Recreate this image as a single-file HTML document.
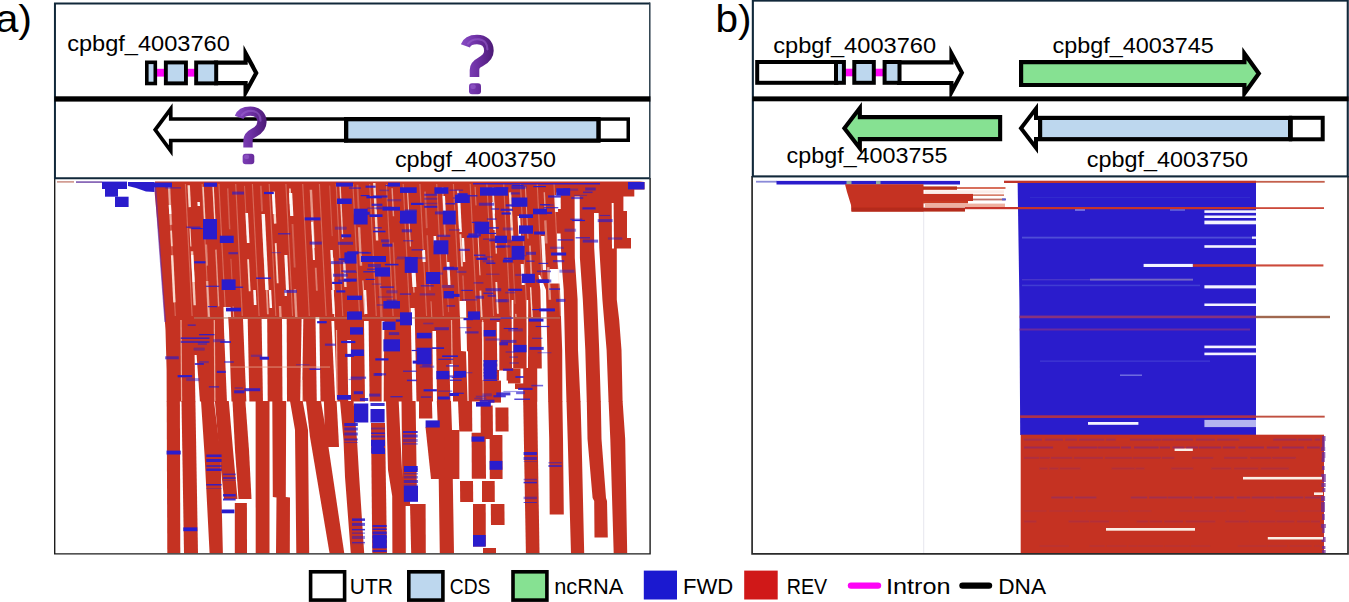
<!DOCTYPE html>
<html><head><meta charset="utf-8"><title>figure</title>
<style>
html,body{margin:0;padding:0;background:#fff;}
body{width:1349px;height:602px;overflow:hidden;font-family:"Liberation Sans",sans-serif;}
svg{display:block;}
text{font-family:"Liberation Sans",sans-serif;fill:#000;}
</style></head><body>
<svg width="1349" height="602" viewBox="0 0 1349 602">
<defs>
<filter id="soft" x="-2%" y="-2%" width="104%" height="104%"><feGaussianBlur stdDeviation="0.45"/></filter>
<clipPath id="clipA"><rect x="55.5" y="178.8" width="594.5" height="374.4"/></clipPath>
<clipPath id="clipB"><rect x="753" y="177.4" width="594" height="375.8"/></clipPath>
</defs>
<rect x="0" y="0" width="1349" height="602" fill="#fff"/>
<g clip-path="url(#clipA)"><g filter="url(#soft)">
<polygon points="155.0,181.4 640.0,181.4 644.5,182.0 644.5,189.4 634.3,189.4 634.3,196.6 623.4,196.6 623.4,211.0 627.0,211.0 627.0,238.0 631.0,238.0 631.0,248.4 616.8,248.4 616.8,299.5 619.2,320.0 621.5,350.0 622.6,401.5 166.7,401.5 166.6,370.0 165.5,330.0 162.0,282.0 158.4,234.0 154.7,193.0" fill="#c53323" />
<rect x="57.0" y="181.2" width="17.0" height="1.4" fill="#c8867a" />
<rect x="76.0" y="181.2" width="26.0" height="1.8" fill="#8a6ab8" />
<polygon points="128.0,182.0 154.5,182.0 154.5,192.0 146.0,191.5 136.0,188.0 128.0,186.0" fill="#2a1ccc" />
<polygon points="594.0,213.0 594.2,248.0 597.2,299.5 599.2,350.0 600.8,402.6 608.6,402.6 606.6,350.0 602.4,299.5 599.3,248.0 598.6,213.0" fill="#ffffff" />
<polygon points="574.6,196.6 574.8,258.0 577.6,299.5 578.0,350.0 580.5,402.6 586.8,402.6 585.3,350.0 582.8,299.5 579.9,258.0 579.7,196.6" fill="#ffffff" />
<polygon points="556.3,192.5 556.5,209.0 560.8,209.0 560.6,192.5" fill="#ffffff" />
<polygon points="557.0,233.6 557.3,258.0 560.0,290.0 562.2,350.0 562.4,402.6 566.5,402.6 565.0,350.0 563.7,290.0 561.2,258.0 560.6,233.6" fill="#ffffff" />
<polygon points="611.7,203.0 612.0,248.4 614.0,248.4 613.6,203.0" fill="#ffffff" />
<polygon points="538.5,275.0 540.4,290.0 541.6,350.0 541.8,368.5 537.2,368.6 537.3,402.6 548.2,402.6 547.6,368.6 547.6,368.5 547.3,350.0 546.0,290.0 540.0,275.0" fill="#ffffff" />
<polygon points="194.6,355.0 195.4,402.6 200.0,402.6 196.6,355.0" fill="#ffffff" />
<polygon points="223.5,307.0 224.0,330.0 227.0,402.6 231.5,402.6 229.0,330.0 227.5,307.0" fill="#ffffff" />
<polygon points="243.0,319.0 246.4,402.6 249.4,402.6 247.7,319.0" fill="#ffffff" />
<polygon points="261.6,319.0 263.0,402.6 267.7,402.6 267.2,319.0" fill="#ffffff" />
<polygon points="282.0,319.0 282.5,402.6 287.0,402.6 286.7,319.0" fill="#ffffff" />
<polygon points="301.6,319.0 300.2,402.6 302.0,402.6 303.3,319.0" fill="#ffffff" />
<polygon points="315.5,317.0 316.8,402.6 320.5,402.6 319.3,317.0" fill="#ffffff" />
<polygon points="331.4,321.0 335.3,402.6 337.0,402.6 334.2,321.0" fill="#ffffff" />
<polygon points="347.2,340.0 348.3,402.6 351.0,402.6 351.0,340.0" fill="#ffffff" />
<polygon points="364.0,321.0 365.0,402.6 369.6,402.6 368.6,321.0" fill="#ffffff" />
<polygon points="381.6,321.0 381.6,402.6 383.5,402.6 384.4,321.0" fill="#ffffff" />
<polygon points="410.6,308.0 412.5,402.6 416.5,402.6 414.6,308.0" fill="#ffffff" />
<polygon points="432.4,331.0 433.0,402.6 437.0,402.6 436.0,331.0" fill="#ffffff" />
<polygon points="449.4,364.0 450.5,402.6 453.0,402.6 453.0,364.0" fill="#ffffff" />
<polygon points="459.5,301.0 461.0,351.0 466.0,351.5 467.6,402.6 468.6,402.6 468.0,351.5 467.0,351.0 466.0,301.0" fill="#ffffff" />
<polygon points="481.8,322.0 482.4,380.0 483.6,380.0 483.5,322.0" fill="#ffffff" />
<polygon points="496.7,322.0 497.3,370.0 499.3,370.0 499.3,322.0" fill="#ffffff" />
<polygon points="511.6,300.0 512.0,368.0 513.2,368.0 513.4,300.0" fill="#ffffff" />
<polygon points="526.5,300.0 526.6,368.0 528.0,368.0 528.2,300.0" fill="#ffffff" />
<polygon points="499.0,370.4 512.5,370.4 512.8,368.5 523.2,368.5 523.2,402.6 497.3,402.6 497.3,380.6 499.0,380.6" fill="#ffffff" />
<rect x="506.6" y="368.5" width="13.9" height="14.9" fill="#c53323" />
<rect x="515.0" y="383.4" width="13.0" height="5.6" fill="#c53323" />
<rect x="501.0" y="380.6" width="7.0" height="22.0" fill="#ffffff" />
<rect x="488.0" y="380.6" width="13.0" height="22.0" fill="#c53323" />
<rect x="549.7" y="269.0" width="10.3" height="14.5" fill="#ffffff" />
<polyline points="155.2,184 156.3,200 158.6,234 162.2,282 165.2,322" fill="none" stroke="#5a2ab8" stroke-width="1.6" opacity="0.6"/>
<line x1="168.7" y1="184" x2="175.3" y2="316" stroke="#ffd8c6" stroke-width="1.1" opacity="0.33"/>
<line x1="185.4" y1="184" x2="192.1" y2="316" stroke="#ffd8c6" stroke-width="1.1" opacity="0.33"/>
<line x1="202.2" y1="184" x2="208.8" y2="316" stroke="#ffd8c6" stroke-width="1.1" opacity="0.33"/>
<line x1="218.9" y1="184" x2="225.6" y2="316" stroke="#ffd8c6" stroke-width="1.1" opacity="0.33"/>
<line x1="235.7" y1="184" x2="242.3" y2="316" stroke="#ffd8c6" stroke-width="1.1" opacity="0.33"/>
<line x1="252.4" y1="184" x2="259.1" y2="316" stroke="#ffd8c6" stroke-width="1.1" opacity="0.33"/>
<line x1="269.2" y1="184" x2="275.8" y2="316" stroke="#ffd8c6" stroke-width="1.1" opacity="0.33"/>
<line x1="285.9" y1="184" x2="292.6" y2="316" stroke="#ffd8c6" stroke-width="1.1" opacity="0.33"/>
<line x1="302.7" y1="184" x2="309.3" y2="316" stroke="#ffd8c6" stroke-width="1.1" opacity="0.33"/>
<line x1="319.4" y1="184" x2="326.1" y2="316" stroke="#ffd8c6" stroke-width="1.1" opacity="0.33"/>
<line x1="336.2" y1="184" x2="342.8" y2="316" stroke="#ffd8c6" stroke-width="1.1" opacity="0.33"/>
<line x1="352.9" y1="184" x2="359.6" y2="316" stroke="#ffd8c6" stroke-width="1.1" opacity="0.33"/>
<line x1="369.7" y1="184" x2="376.3" y2="316" stroke="#ffd8c6" stroke-width="1.1" opacity="0.33"/>
<line x1="386.4" y1="184" x2="393.1" y2="316" stroke="#ffd8c6" stroke-width="1.1" opacity="0.33"/>
<line x1="403.2" y1="184" x2="409.8" y2="316" stroke="#ffd8c6" stroke-width="1.1" opacity="0.33"/>
<line x1="419.9" y1="184" x2="426.6" y2="316" stroke="#ffd8c6" stroke-width="1.1" opacity="0.33"/>
<line x1="436.7" y1="184" x2="443.3" y2="316" stroke="#ffd8c6" stroke-width="1.1" opacity="0.33"/>
<line x1="453.4" y1="184" x2="460.1" y2="316" stroke="#ffd8c6" stroke-width="1.1" opacity="0.33"/>
<line x1="470.2" y1="184" x2="476.8" y2="316" stroke="#ffd8c6" stroke-width="1.1" opacity="0.33"/>
<line x1="486.9" y1="184" x2="493.6" y2="316" stroke="#ffd8c6" stroke-width="1.1" opacity="0.33"/>
<line x1="503.7" y1="184" x2="510.3" y2="316" stroke="#ffd8c6" stroke-width="1.1" opacity="0.33"/>
<line x1="520.5" y1="184" x2="527.0" y2="316" stroke="#ffd8c6" stroke-width="1.1" opacity="0.33"/>
<line x1="537.2" y1="184" x2="543.8" y2="316" stroke="#ffd8c6" stroke-width="1.1" opacity="0.33"/>
<line x1="554.0" y1="184" x2="560.5" y2="316" stroke="#ffd8c6" stroke-width="1.1" opacity="0.33"/>
<line x1="169.0" y1="185.4" x2="171.0" y2="224.9" stroke="#ffe9dc" stroke-width="2.4" opacity="0.55"/>
<line x1="171.1" y1="230.6" x2="171.9" y2="246.2" stroke="#ffe9dc" stroke-width="1.8" opacity="0.80"/>
<line x1="172.1" y1="255.2" x2="174.4" y2="302.4" stroke="#ffe9dc" stroke-width="2.4" opacity="0.90"/>
<line x1="188.7" y1="185.3" x2="189.8" y2="207.1" stroke="#ffe9dc" stroke-width="2.4" opacity="0.90"/>
<line x1="190.0" y1="228.6" x2="190.9" y2="246.5" stroke="#ffe9dc" stroke-width="1.0" opacity="0.90"/>
<line x1="192.0" y1="251.3" x2="194.7" y2="305.2" stroke="#ffe9dc" stroke-width="2.4" opacity="0.80"/>
<line x1="203.1" y1="186.9" x2="205.7" y2="238.0" stroke="#ffe9dc" stroke-width="1.4" opacity="0.80"/>
<line x1="206.2" y1="244.5" x2="207.2" y2="265.6" stroke="#ffe9dc" stroke-width="1.8" opacity="0.40"/>
<line x1="207.1" y1="281.0" x2="208.9" y2="317.0" stroke="#ffe9dc" stroke-width="2.4" opacity="0.55"/>
<line x1="213.1" y1="186.5" x2="215.2" y2="227.8" stroke="#ffe9dc" stroke-width="1.4" opacity="0.90"/>
<line x1="215.9" y1="249.6" x2="218.7" y2="306.4" stroke="#ffe9dc" stroke-width="1.4" opacity="0.55"/>
<line x1="227.7" y1="188.4" x2="229.7" y2="229.2" stroke="#ffe9dc" stroke-width="1.4" opacity="0.25"/>
<line x1="230.9" y1="258.8" x2="232.3" y2="285.9" stroke="#ffe9dc" stroke-width="1.0" opacity="0.25"/>
<line x1="233.1" y1="306.5" x2="233.7" y2="317.0" stroke="#ffe9dc" stroke-width="1.0" opacity="0.55"/>
<line x1="244.5" y1="185.9" x2="247.0" y2="235.5" stroke="#ffe9dc" stroke-width="1.0" opacity="0.25"/>
<line x1="248.1" y1="259.3" x2="249.7" y2="291.3" stroke="#ffe9dc" stroke-width="1.8" opacity="0.90"/>
<line x1="260.8" y1="185.8" x2="262.1" y2="211.4" stroke="#ffe9dc" stroke-width="1.8" opacity="0.25"/>
<line x1="263.0" y1="218.2" x2="264.9" y2="257.3" stroke="#ffe9dc" stroke-width="2.4" opacity="0.40"/>
<line x1="265.6" y1="268.2" x2="267.9" y2="314.2" stroke="#ffe9dc" stroke-width="1.8" opacity="0.55"/>
<line x1="273.6" y1="191.6" x2="275.2" y2="223.6" stroke="#ffe9dc" stroke-width="2.4" opacity="0.90"/>
<line x1="275.7" y1="243.1" x2="277.7" y2="283.2" stroke="#ffe9dc" stroke-width="1.8" opacity="0.90"/>
<line x1="280.0" y1="306.0" x2="280.5" y2="317.0" stroke="#ffe9dc" stroke-width="2.4" opacity="0.55"/>
<line x1="289.9" y1="188.5" x2="290.6" y2="204.0" stroke="#ffe9dc" stroke-width="1.8" opacity="0.80"/>
<line x1="292.5" y1="224.0" x2="294.7" y2="267.5" stroke="#ffe9dc" stroke-width="1.8" opacity="0.25"/>
<line x1="294.9" y1="289.1" x2="296.3" y2="317.0" stroke="#ffe9dc" stroke-width="2.4" opacity="0.55"/>
<line x1="310.9" y1="189.8" x2="313.8" y2="248.1" stroke="#ffe9dc" stroke-width="2.4" opacity="0.55"/>
<line x1="315.7" y1="267.7" x2="316.9" y2="290.7" stroke="#ffe9dc" stroke-width="1.8" opacity="0.40"/>
<line x1="329.7" y1="185.6" x2="332.2" y2="236.1" stroke="#ffe9dc" stroke-width="1.0" opacity="0.25"/>
<line x1="332.7" y1="257.8" x2="333.7" y2="278.8" stroke="#ffe9dc" stroke-width="1.4" opacity="0.90"/>
<line x1="333.2" y1="289.8" x2="334.6" y2="317.0" stroke="#ffe9dc" stroke-width="1.0" opacity="0.80"/>
<line x1="340.1" y1="186.3" x2="342.7" y2="238.8" stroke="#ffe9dc" stroke-width="1.4" opacity="0.80"/>
<line x1="344.2" y1="262.1" x2="345.5" y2="287.0" stroke="#ffe9dc" stroke-width="2.4" opacity="0.90"/>
<line x1="347.8" y1="311.4" x2="348.1" y2="317.0" stroke="#ffe9dc" stroke-width="1.8" opacity="0.40"/>
<line x1="357.4" y1="184.8" x2="358.8" y2="212.4" stroke="#ffe9dc" stroke-width="1.8" opacity="0.25"/>
<line x1="359.1" y1="227.3" x2="361.0" y2="265.7" stroke="#ffe9dc" stroke-width="2.4" opacity="0.55"/>
<line x1="362.9" y1="280.5" x2="364.6" y2="314.4" stroke="#ffe9dc" stroke-width="1.0" opacity="0.80"/>
<line x1="374.3" y1="183.0" x2="377.1" y2="240.5" stroke="#ffe9dc" stroke-width="2.4" opacity="0.90"/>
<line x1="379.2" y1="270.1" x2="381.5" y2="317.0" stroke="#ffe9dc" stroke-width="2.4" opacity="0.25"/>
<line x1="392.1" y1="188.2" x2="393.5" y2="216.2" stroke="#ffe9dc" stroke-width="1.4" opacity="0.55"/>
<line x1="393.2" y1="242.5" x2="396.2" y2="301.2" stroke="#ffe9dc" stroke-width="1.4" opacity="0.25"/>
<line x1="407.5" y1="189.9" x2="410.4" y2="246.5" stroke="#ffe9dc" stroke-width="1.0" opacity="0.80"/>
<line x1="412.8" y1="269.9" x2="414.0" y2="292.6" stroke="#ffe9dc" stroke-width="1.4" opacity="0.55"/>
<line x1="414.2" y1="310.3" x2="414.5" y2="317.0" stroke="#ffe9dc" stroke-width="1.0" opacity="0.90"/>
<line x1="425.0" y1="191.6" x2="426.8" y2="228.1" stroke="#ffe9dc" stroke-width="1.8" opacity="0.25"/>
<line x1="427.2" y1="235.3" x2="430.0" y2="290.2" stroke="#ffe9dc" stroke-width="1.4" opacity="0.25"/>
<line x1="431.0" y1="301.3" x2="431.8" y2="317.0" stroke="#ffe9dc" stroke-width="1.0" opacity="0.40"/>
<line x1="442.6" y1="187.0" x2="445.0" y2="236.0" stroke="#ffe9dc" stroke-width="1.8" opacity="0.40"/>
<line x1="446.4" y1="253.6" x2="447.3" y2="270.9" stroke="#ffe9dc" stroke-width="1.0" opacity="0.55"/>
<line x1="447.7" y1="295.0" x2="448.6" y2="312.1" stroke="#ffe9dc" stroke-width="1.0" opacity="0.25"/>
<line x1="457.8" y1="190.1" x2="459.7" y2="228.3" stroke="#ffe9dc" stroke-width="1.8" opacity="0.80"/>
<line x1="460.4" y1="234.2" x2="462.0" y2="266.5" stroke="#ffe9dc" stroke-width="1.8" opacity="0.80"/>
<line x1="462.9" y1="275.5" x2="464.4" y2="305.3" stroke="#ffe9dc" stroke-width="1.4" opacity="0.25"/>
<line x1="475.1" y1="186.8" x2="476.0" y2="205.4" stroke="#ffe9dc" stroke-width="1.0" opacity="0.40"/>
<line x1="477.5" y1="225.1" x2="480.0" y2="275.3" stroke="#ffe9dc" stroke-width="1.0" opacity="0.80"/>
<line x1="480.4" y1="290.6" x2="481.7" y2="317.0" stroke="#ffe9dc" stroke-width="1.8" opacity="0.80"/>
<line x1="492.8" y1="187.6" x2="494.1" y2="213.6" stroke="#ffe9dc" stroke-width="1.8" opacity="0.90"/>
<line x1="494.7" y1="219.5" x2="496.4" y2="253.6" stroke="#ffe9dc" stroke-width="1.4" opacity="0.80"/>
<line x1="496.3" y1="282.0" x2="497.9" y2="313.8" stroke="#ffe9dc" stroke-width="1.8" opacity="0.90"/>
<line x1="510.0" y1="192.4" x2="512.4" y2="240.3" stroke="#ffe9dc" stroke-width="2.4" opacity="0.90"/>
<line x1="513.1" y1="263.4" x2="515.1" y2="303.8" stroke="#ffe9dc" stroke-width="1.0" opacity="0.25"/>
<line x1="515.8" y1="313.9" x2="516.0" y2="317.0" stroke="#ffe9dc" stroke-width="1.0" opacity="0.90"/>
<line x1="525.4" y1="186.8" x2="528.0" y2="238.6" stroke="#ffe9dc" stroke-width="1.0" opacity="0.55"/>
<line x1="529.9" y1="245.6" x2="531.7" y2="282.3" stroke="#ffe9dc" stroke-width="1.8" opacity="0.55"/>
<line x1="530.6" y1="287.3" x2="532.1" y2="317.0" stroke="#ffe9dc" stroke-width="1.4" opacity="0.90"/>
<line x1="544.3" y1="192.3" x2="545.2" y2="210.1" stroke="#ffe9dc" stroke-width="1.4" opacity="0.55"/>
<line x1="545.3" y1="220.4" x2="546.4" y2="243.5" stroke="#ffe9dc" stroke-width="2.4" opacity="0.40"/>
<line x1="548.2" y1="267.1" x2="549.9" y2="299.8" stroke="#ffe9dc" stroke-width="2.4" opacity="0.55"/>
<line x1="273.1" y1="192.0" x2="274.2" y2="214.0" stroke="#ffffff" stroke-width="2.6" opacity="0.95"/>
<line x1="290.6" y1="193.0" x2="291.8" y2="216.0" stroke="#ffffff" stroke-width="3.2" opacity="0.95"/>
<line x1="246.7" y1="213.0" x2="248.2" y2="243.0" stroke="#ffffff" stroke-width="2.6" opacity="0.95"/>
<line x1="263.2" y1="214.0" x2="267.0" y2="290.0" stroke="#ffffff" stroke-width="3.4" opacity="0.95"/>
<line x1="285.8" y1="255.0" x2="287.5" y2="290.0" stroke="#ffffff" stroke-width="3.0" opacity="0.95"/>
<line x1="169.8" y1="205.0" x2="170.3" y2="214.0" stroke="#ffffff" stroke-width="2.2" opacity="0.95"/>
<line x1="198.6" y1="202.0" x2="198.8" y2="206.0" stroke="#ffffff" stroke-width="2.4" opacity="0.95"/>
<line x1="192.2" y1="255.0" x2="193.6" y2="282.0" stroke="#ffffff" stroke-width="2.2" opacity="0.95"/>
<line x1="312.1" y1="222.0" x2="314.0" y2="260.0" stroke="#ffffff" stroke-width="2.0" opacity="0.95"/>
<line x1="331.5" y1="250.0" x2="333.5" y2="290.0" stroke="#ffffff" stroke-width="2.4" opacity="0.95"/>
<line x1="443.8" y1="196.0" x2="444.8" y2="216.0" stroke="#ffffff" stroke-width="2.4" opacity="0.95"/>
<line x1="459.0" y1="200.0" x2="460.6" y2="232.0" stroke="#ffffff" stroke-width="2.6" opacity="0.95"/>
<line x1="493.1" y1="202.0" x2="494.5" y2="230.0" stroke="#ffffff" stroke-width="2.2" opacity="0.95"/>
<line x1="518.8" y1="216.0" x2="520.0" y2="240.0" stroke="#ffffff" stroke-width="2.6" opacity="0.95"/>
<line x1="555.8" y1="195.0" x2="556.6" y2="212.0" stroke="#ffffff" stroke-width="3.0" opacity="0.95"/>
<line x1="542.8" y1="236.0" x2="544.5" y2="270.0" stroke="#ffffff" stroke-width="3.4" opacity="0.95"/>
<line x1="558.9" y1="238.0" x2="560.4" y2="268.0" stroke="#ffffff" stroke-width="3.0" opacity="0.95"/>
<line x1="423.5" y1="250.0" x2="424.1" y2="262.0" stroke="#ffffff" stroke-width="3.0" opacity="0.95"/>
<line x1="434.8" y1="236.0" x2="435.6" y2="252.0" stroke="#ffffff" stroke-width="2.6" opacity="0.95"/>
<line x1="413.6" y1="272.0" x2="414.4" y2="287.0" stroke="#ffffff" stroke-width="4.0" opacity="0.95"/>
<line x1="448.1" y1="262.0" x2="449.2" y2="285.0" stroke="#ffffff" stroke-width="2.6" opacity="0.95"/>
<line x1="522.2" y1="264.0" x2="523.2" y2="285.0" stroke="#ffffff" stroke-width="3.0" opacity="0.95"/>
<line x1="462.9" y1="238.0" x2="464.1" y2="262.0" stroke="#ffffff" stroke-width="2.4" opacity="0.95"/>
<line x1="254.5" y1="290.0" x2="255.2" y2="305.0" stroke="#ffffff" stroke-width="2.6" opacity="0.95"/>
<line x1="270.0" y1="290.0" x2="270.9" y2="308.0" stroke="#ffffff" stroke-width="2.4" opacity="0.95"/>
<line x1="285.5" y1="290.0" x2="285.8" y2="296.0" stroke="#ffffff" stroke-width="2.2" opacity="0.95"/>
<line x1="332.5" y1="290.0" x2="333.7" y2="314.0" stroke="#ffffff" stroke-width="2.4" opacity="0.95"/>
<line x1="365.0" y1="290.0" x2="366.2" y2="314.0" stroke="#ffffff" stroke-width="2.4" opacity="0.95"/>
<line x1="228.8" y1="307.0" x2="229.3" y2="317.0" stroke="#ffffff" stroke-width="3.5" opacity="0.95"/>
<line x1="181.0" y1="320.0" x2="181.6" y2="401.0" stroke="#ffd9c8" stroke-width="1.2" opacity="0.7"/>
<line x1="214.3" y1="320.0" x2="214.9" y2="401.0" stroke="#ffd9c8" stroke-width="1.2" opacity="0.7"/>
<line x1="302.0" y1="380.0" x2="302.6" y2="401.0" stroke="#ffd9c8" stroke-width="1.2" opacity="0.7"/>
<line x1="336.5" y1="330.0" x2="337.1" y2="401.0" stroke="#ffd9c8" stroke-width="1.2" opacity="0.7"/>
<line x1="382.8" y1="330.0" x2="383.4" y2="401.0" stroke="#ffd9c8" stroke-width="1.2" opacity="0.7"/>
<line x1="451.5" y1="320.0" x2="452.1" y2="364.0" stroke="#ffd9c8" stroke-width="1.2" opacity="0.7"/>
<line x1="482.6" y1="320.0" x2="483.2" y2="400.0" stroke="#ffd9c8" stroke-width="1.2" opacity="0.7"/>
<rect x="194.0" y="317.3" width="366.0" height="1.3" fill="#b0806a" opacity="0.8"/>
<rect x="230.0" y="366.5" width="100.0" height="1.1" fill="#e8a890" opacity="0.7"/>
<polygon points="166.7,400.9 167.3,553.6 180.3,553.6 179.9,400.9" fill="#c53323" />
<polygon points="181.5,400.9 184.0,553.6 198.0,553.6 195.4,400.9" fill="#c53323" />
<polygon points="201.0,400.9 204.5,454.0 209.6,553.6 222.9,553.6 220.5,454.0 214.0,400.9" fill="#c53323" />
<polygon points="214.9,400.9 219.0,450.0 224.0,499.0 237.5,499.0 233.0,450.0 228.8,400.9" fill="#c53323" />
<polygon points="232.5,400.9 235.0,450.0 238.5,499.0 251.5,499.0 249.0,450.0 245.4,400.9" fill="#c53323" />
<polygon points="234.8,503.0 234.8,553.6 247.0,553.6 246.9,503.0" fill="#c53323" />
<polygon points="255.6,400.9 255.7,553.6 269.5,553.6 269.5,400.9" fill="#c53323" />
<polygon points="272.3,400.9 272.8,497.0 276.5,497.5 276.0,553.6 289.8,553.6 290.0,497.5 285.8,497.0 286.2,400.9" fill="#c53323" />
<polygon points="290.0,400.9 295.0,430.0 296.3,553.6 309.2,553.6 308.0,430.0 302.7,400.9" fill="#c53323" />
<polygon points="306.0,400.9 310.0,437.0 329.6,553.6 344.3,553.6 327.0,437.0 321.0,400.9" fill="#c53323" />
<polygon points="323.9,400.9 325.0,436.0 327.0,447.0 339.0,447.0 338.5,436.0 336.6,400.9" fill="#c53323" />
<polygon points="340.0,400.9 343.5,440.0 345.0,477.0 350.8,553.6 364.2,553.6 359.2,477.0 357.0,440.0 353.5,400.9" fill="#c53323" />
<polygon points="371.0,423.0 372.3,553.6 387.0,553.6 385.0,423.0" fill="#c53323" />
<polygon points="386.0,400.9 388.0,470.0 392.2,496.0 392.4,553.6 405.8,553.6 405.6,496.0 402.0,470.0 398.7,400.9" fill="#c53323" />
<polygon points="401.5,400.9 402.5,500.0 404.0,500.5 404.0,506.0 410.0,506.0 410.0,500.5 417.0,500.0 415.6,400.9" fill="#c53323" />
<polygon points="410.0,504.0 411.2,553.6 425.8,553.6 425.6,504.0" fill="#c53323" />
<polygon points="419.0,400.9 419.0,418.6 432.4,418.6 431.9,400.9" fill="#c53323" />
<polygon points="425.5,427.0 431.0,479.0 445.0,479.0 439.6,427.0" fill="#c53323" />
<polygon points="436.8,400.9 438.0,430.0 439.8,553.6 454.0,553.6 452.0,430.0 451.0,400.9" fill="#c53323" />
<polygon points="444.0,430.0 445.0,479.0 459.4,479.0 459.4,430.0" fill="#c53323" />
<polygon points="458.0,400.9 459.3,431.5 472.3,431.5 472.0,400.9" fill="#c53323" />
<polygon points="471.6,432.7 471.8,478.8 486.0,478.8 485.7,432.7" fill="#c53323" />
<polygon points="460.0,481.0 460.2,502.0 473.2,502.0 473.0,481.0" fill="#c53323" />
<polygon points="473.0,504.0 473.0,546.6 485.8,546.6 485.7,504.0" fill="#c53323" />
<polygon points="480.6,405.6 480.8,439.0 493.0,439.0 492.7,405.6" fill="#c53323" />
<polygon points="495.4,407.5 495.6,431.5 508.6,431.5 508.4,407.5" fill="#c53323" />
<polygon points="489.6,435.0 489.8,479.0 502.6,479.0 502.4,435.0" fill="#c53323" />
<polygon points="482.0,481.0 482.0,502.0 494.8,502.0 494.7,481.0" fill="#c53323" />
<polygon points="490.8,504.0 491.0,525.0 504.6,525.0 504.4,504.0" fill="#c53323" />
<polygon points="483.0,548.0 483.0,553.6 496.0,553.6 496.0,548.0" fill="#c53323" />
<polygon points="523.2,400.9 525.9,553.6 539.5,553.6 537.1,400.9" fill="#c53323" />
<polygon points="548.2,400.9 549.2,439.0 549.7,514.6 563.8,514.6 563.0,439.0 562.4,400.9" fill="#c53323" />
<polygon points="566.5,400.9 567.7,439.0 571.0,553.6 584.2,553.6 581.6,439.0 580.5,400.9" fill="#c53323" />
<polygon points="586.8,400.9 587.5,439.0 592.6,498.0 594.2,501.0 594.5,537.6 607.8,537.6 607.0,501.0 606.0,498.0 601.5,439.0 600.8,400.9" fill="#c53323" />
<polygon points="608.6,400.9 610.3,439.0 613.7,553.6 627.2,553.6 625.2,439.0 622.6,400.9" fill="#c53323" />
<rect x="102.0" y="181.6" width="25.0" height="7.4" fill="#2a1ccc" />
<rect x="105.0" y="189.0" width="13.0" height="7.7" fill="#2a1ccc" />
<rect x="115.0" y="196.7" width="13.6" height="10.3" fill="#2a1ccc" />
<rect x="203.0" y="219.0" width="14.0" height="20.4" fill="#2a1ccc" />
<rect x="219.8" y="235.7" width="13.9" height="7.3" fill="#2a1ccc" />
<rect x="221.6" y="279.4" width="14.0" height="10.6" fill="#2a1ccc" />
<rect x="337.0" y="198.5" width="14.8" height="5.5" fill="#2a1ccc" />
<rect x="353.7" y="208.7" width="13.9" height="15.8" fill="#2a1ccc" />
<rect x="344.4" y="252.4" width="12.1" height="11.2" fill="#2a1ccc" />
<rect x="375.0" y="267.3" width="15.0" height="9.3" fill="#2a1ccc" />
<rect x="361.0" y="256.0" width="25.0" height="6.0" fill="#2a1ccc" />
<rect x="382.5" y="206.8" width="17.5" height="3.8" fill="#2a1ccc" />
<rect x="369.5" y="214.3" width="13.0" height="2.7" fill="#2a1ccc" />
<rect x="150.0" y="182.6" width="22.0" height="4.7" fill="#2a1ccc" />
<rect x="204.0" y="182.6" width="13.0" height="4.2" fill="#2a1ccc" />
<rect x="336.0" y="182.6" width="17.0" height="4.0" fill="#2a1ccc" />
<rect x="388.0" y="182.6" width="12.0" height="4.0" fill="#2a1ccc" />
<rect x="434.4" y="187.3" width="14.0" height="6.5" fill="#2a1ccc" />
<rect x="480.0" y="187.3" width="27.9" height="8.4" fill="#2a1ccc" />
<rect x="454.9" y="194.7" width="14.9" height="8.3" fill="#2a1ccc" />
<rect x="511.6" y="197.5" width="15.8" height="9.3" fill="#2a1ccc" />
<rect x="556.3" y="188.2" width="13.9" height="7.5" fill="#2a1ccc" />
<rect x="533.0" y="208.7" width="14.0" height="5.6" fill="#2a1ccc" />
<rect x="519.0" y="214.3" width="14.0" height="3.7" fill="#2a1ccc" />
<rect x="519.0" y="225.4" width="14.0" height="8.4" fill="#2a1ccc" />
<rect x="442.8" y="210.6" width="13.0" height="13.9" fill="#2a1ccc" />
<rect x="474.4" y="221.7" width="14.9" height="12.1" fill="#2a1ccc" />
<rect x="400.0" y="187.3" width="16.7" height="5.6" fill="#2a1ccc" />
<rect x="400.0" y="210.6" width="16.7" height="13.0" fill="#2a1ccc" />
<rect x="433.5" y="240.3" width="14.9" height="14.0" fill="#2a1ccc" />
<rect x="494.9" y="235.7" width="12.1" height="7.3" fill="#2a1ccc" />
<rect x="511.6" y="235.7" width="13.0" height="5.5" fill="#2a1ccc" />
<rect x="511.6" y="245.9" width="13.0" height="13.9" fill="#2a1ccc" />
<rect x="404.7" y="257.0" width="13.0" height="15.9" fill="#2a1ccc" />
<rect x="426.0" y="272.0" width="14.0" height="12.0" fill="#2a1ccc" />
<rect x="521.8" y="273.8" width="13.1" height="9.2" fill="#2a1ccc" />
<rect x="537.6" y="279.4" width="11.2" height="3.6" fill="#2a1ccc" />
<rect x="628.0" y="182.0" width="16.5" height="7.4" fill="#2a1ccc" />
<rect x="400.0" y="312.3" width="12.0" height="13.0" fill="#2a1ccc" />
<rect x="416.7" y="332.8" width="14.9" height="5.6" fill="#2a1ccc" />
<rect x="416.7" y="347.7" width="14.9" height="16.7" fill="#2a1ccc" />
<rect x="443.7" y="291.0" width="10.3" height="7.4" fill="#2a1ccc" />
<rect x="467.9" y="311.4" width="12.1" height="8.4" fill="#2a1ccc" />
<rect x="483.7" y="330.0" width="12.1" height="6.5" fill="#2a1ccc" />
<rect x="483.7" y="360.7" width="13.0" height="18.6" fill="#2a1ccc" />
<rect x="513.5" y="344.9" width="13.0" height="7.4" fill="#2a1ccc" />
<rect x="436.3" y="370.9" width="13.0" height="8.4" fill="#2a1ccc" />
<rect x="454.0" y="370.9" width="12.0" height="6.5" fill="#2a1ccc" />
<rect x="350.0" y="327.2" width="13.0" height="7.4" fill="#2a1ccc" />
<rect x="350.9" y="349.5" width="13.0" height="6.5" fill="#2a1ccc" />
<rect x="382.5" y="321.6" width="13.0" height="8.4" fill="#2a1ccc" />
<rect x="383.4" y="301.0" width="16.6" height="7.6" fill="#2a1ccc" />
<rect x="383.4" y="339.3" width="16.6" height="12.1" fill="#2a1ccc" />
<rect x="347.0" y="295.6" width="15.0" height="4.4" fill="#2a1ccc" />
<rect x="347.0" y="311.4" width="15.0" height="8.4" fill="#2a1ccc" />
<rect x="337.0" y="395.0" width="14.0" height="4.7" fill="#2a1ccc" />
<rect x="226.0" y="307.7" width="15.0" height="3.7" fill="#2a1ccc" />
<rect x="354.0" y="403.5" width="14.3" height="19.0" fill="#2a1ccc" />
<rect x="370.5" y="409.0" width="14.1" height="13.5" fill="#2a1ccc" />
<rect x="371.3" y="444.0" width="12.7" height="9.0" fill="#2a1ccc" />
<rect x="166.6" y="450.6" width="14.1" height="3.9" fill="#2a1ccc" />
<rect x="183.3" y="527.4" width="14.0" height="3.8" fill="#2a1ccc" />
<rect x="221.6" y="509.5" width="12.8" height="3.8" fill="#2a1ccc" />
<rect x="403.8" y="486.0" width="14.2" height="15.8" fill="#2a1ccc" />
<rect x="425.6" y="420.4" width="14.2" height="7.1" fill="#2a1ccc" />
<rect x="489.6" y="460.9" width="12.8" height="8.9" fill="#2a1ccc" />
<rect x="473.0" y="535.0" width="12.7" height="11.6" fill="#2a1ccc" />
<rect x="471.6" y="436.5" width="12.8" height="5.2" fill="#2a1ccc" />
<rect x="476.0" y="402.0" width="14.8" height="4.6" fill="#2a1ccc" />
<rect x="372.6" y="535.0" width="14.1" height="13.0" fill="#2a1ccc" />
<rect x="437.7" y="396.5" width="12.0" height="3.0" fill="#2a1ccc" />
<rect x="371.0" y="440.0" width="14.0" height="6.0" fill="#2a1ccc" />
<rect x="371.5" y="448.0" width="13.5" height="6.0" fill="#2a1ccc" />
<rect x="404.0" y="466.0" width="13.7" height="6.0" fill="#2a1ccc" />
<rect x="424.2" y="193.8" width="13.0" height="2.0" fill="#2a1ccc" opacity="0.70"/>
<rect x="424.2" y="197.8" width="13.0" height="2.0" fill="#2a1ccc" opacity="0.50"/>
<rect x="424.2" y="202.8" width="13.0" height="1.5" fill="#2a1ccc" opacity="0.50"/>
<rect x="424.2" y="205.8" width="13.0" height="2.0" fill="#2a1ccc" opacity="0.90"/>
<rect x="344.3" y="423.0" width="13.5" height="3.0" fill="#2a1ccc" opacity="0.90"/>
<rect x="344.3" y="427.5" width="13.5" height="3.0" fill="#2a1ccc" opacity="0.70"/>
<rect x="344.3" y="432.5" width="13.5" height="3.0" fill="#2a1ccc" opacity="0.70"/>
<rect x="344.3" y="438.5" width="13.5" height="2.0" fill="#2a1ccc" opacity="0.70"/>
<rect x="344.3" y="442.0" width="13.5" height="1.0" fill="#2a1ccc" opacity="0.50"/>
<rect x="352.0" y="518.4" width="13.0" height="2.5" fill="#2a1ccc" opacity="0.90"/>
<rect x="352.0" y="522.9" width="13.0" height="3.0" fill="#2a1ccc" opacity="0.70"/>
<rect x="352.0" y="528.9" width="13.0" height="1.5" fill="#2a1ccc" opacity="0.90"/>
<rect x="352.0" y="532.4" width="13.0" height="1.5" fill="#2a1ccc" opacity="0.50"/>
<rect x="352.0" y="535.9" width="13.0" height="3.0" fill="#2a1ccc" opacity="0.50"/>
<rect x="352.0" y="541.9" width="13.0" height="1.5" fill="#2a1ccc" opacity="0.70"/>
<rect x="352.0" y="544.9" width="13.0" height="0.1" fill="#2a1ccc" opacity="0.70"/>
<rect x="372.6" y="525.0" width="14.1" height="2.0" fill="#2a1ccc" opacity="0.90"/>
<rect x="372.6" y="528.5" width="14.1" height="1.5" fill="#2a1ccc" opacity="0.90"/>
<rect x="372.6" y="531.5" width="14.1" height="3.0" fill="#2a1ccc" opacity="0.90"/>
<rect x="372.6" y="536.0" width="14.1" height="2.0" fill="#2a1ccc" opacity="0.90"/>
<rect x="372.6" y="540.0" width="14.1" height="3.0" fill="#2a1ccc" opacity="0.70"/>
<rect x="372.6" y="546.0" width="14.1" height="2.5" fill="#2a1ccc" opacity="0.70"/>
<rect x="372.6" y="550.0" width="14.1" height="2.0" fill="#2a1ccc" opacity="0.90"/>
<rect x="206.3" y="454.5" width="15.3" height="2.5" fill="#2a1ccc" opacity="0.90"/>
<rect x="206.3" y="459.0" width="15.3" height="3.0" fill="#2a1ccc" opacity="0.90"/>
<rect x="206.3" y="465.0" width="15.3" height="2.0" fill="#2a1ccc" opacity="0.70"/>
<rect x="206.3" y="468.5" width="15.3" height="2.5" fill="#2a1ccc" opacity="0.90"/>
<rect x="206.3" y="484.0" width="15.3" height="1.5" fill="#2a1ccc" opacity="0.90"/>
<rect x="206.3" y="488.5" width="15.3" height="0.5" fill="#2a1ccc" opacity="0.70"/>
<rect x="223.0" y="473.6" width="12.7" height="1.5" fill="#2a1ccc" opacity="0.70"/>
<rect x="223.0" y="477.1" width="12.7" height="2.0" fill="#2a1ccc" opacity="0.70"/>
<rect x="223.0" y="480.6" width="12.7" height="0.4" fill="#2a1ccc" opacity="0.70"/>
<rect x="223.0" y="494.0" width="12.7" height="2.5" fill="#2a1ccc" opacity="0.90"/>
<rect x="223.0" y="498.5" width="12.7" height="2.0" fill="#2a1ccc" opacity="0.90"/>
<rect x="403.8" y="468.5" width="14.2" height="1.5" fill="#2a1ccc" opacity="0.50"/>
<rect x="403.8" y="473.0" width="14.2" height="1.5" fill="#2a1ccc" opacity="0.50"/>
<rect x="403.8" y="476.0" width="14.2" height="2.5" fill="#2a1ccc" opacity="0.50"/>
<rect x="403.8" y="480.0" width="14.2" height="3.0" fill="#2a1ccc" opacity="0.70"/>
<rect x="403.8" y="484.5" width="14.2" height="1.5" fill="#2a1ccc" opacity="0.50"/>
<rect x="523.6" y="452.0" width="13.3" height="3.0" fill="#2a1ccc" opacity="0.90"/>
<rect x="523.6" y="457.0" width="13.3" height="3.0" fill="#2a1ccc" opacity="0.70"/>
<rect x="523.6" y="461.5" width="13.3" height="0.5" fill="#2a1ccc" opacity="0.70"/>
<rect x="523.6" y="478.8" width="13.3" height="1.5" fill="#2a1ccc" opacity="0.50"/>
<rect x="523.6" y="481.8" width="13.3" height="1.5" fill="#2a1ccc" opacity="0.90"/>
<rect x="523.6" y="496.7" width="13.3" height="2.5" fill="#2a1ccc" opacity="0.50"/>
<rect x="523.6" y="502.2" width="13.3" height="0.8" fill="#2a1ccc" opacity="0.90"/>
<rect x="548.4" y="462.0" width="13.3" height="1.5" fill="#2a1ccc" opacity="0.50"/>
<rect x="548.4" y="465.0" width="13.3" height="2.0" fill="#2a1ccc" opacity="0.70"/>
<rect x="180.7" y="337.4" width="28.8" height="1.5" fill="#2a1ccc" opacity="0.90"/>
<rect x="180.7" y="340.9" width="28.8" height="2.1" fill="#2a1ccc" opacity="0.70"/>
<rect x="473.0" y="183.0" width="127.0" height="1.5" fill="#2a1ccc" opacity="0.90"/>
<rect x="371.0" y="427.5" width="14.0" height="2.0" fill="#2a1ccc" opacity="0.50"/>
<rect x="371.0" y="432.5" width="14.0" height="1.5" fill="#2a1ccc" opacity="0.90"/>
<rect x="371.0" y="435.5" width="14.0" height="2.0" fill="#2a1ccc" opacity="0.70"/>
<rect x="371.0" y="439.5" width="14.0" height="0.5" fill="#2a1ccc" opacity="0.50"/>
<rect x="403.0" y="431.0" width="14.7" height="2.0" fill="#2a1ccc" opacity="0.90"/>
<rect x="403.0" y="434.5" width="14.7" height="3.0" fill="#2a1ccc" opacity="0.70"/>
<rect x="403.0" y="439.0" width="14.7" height="3.0" fill="#2a1ccc" opacity="0.50"/>
<rect x="403.0" y="443.5" width="14.7" height="0.9" fill="#2a1ccc" opacity="0.90"/>
<rect x="370.5" y="403.0" width="14.1" height="3.0" fill="#2a1ccc" opacity="0.90"/>
<rect x="483.4" y="360.0" width="13.9" height="1.5" fill="#2a1ccc" opacity="0.90"/>
<rect x="483.4" y="363.5" width="13.9" height="3.0" fill="#2a1ccc" opacity="0.70"/>
<rect x="483.4" y="368.5" width="13.9" height="2.0" fill="#2a1ccc" opacity="0.50"/>
<rect x="483.4" y="372.0" width="13.9" height="1.5" fill="#2a1ccc" opacity="0.70"/>
<rect x="483.4" y="375.0" width="13.9" height="1.5" fill="#2a1ccc" opacity="0.50"/>
<rect x="483.4" y="379.5" width="13.9" height="1.5" fill="#2a1ccc" opacity="0.90"/>
<rect x="367.9" y="264.0" width="13.1" height="3.0" fill="#2a1ccc" opacity="0.65"/>
<rect x="557.6" y="239.1" width="15.7" height="1.6" fill="#2a1ccc" opacity="0.65"/>
<rect x="511.3" y="185.6" width="15.5" height="3.0" fill="#2a1ccc" opacity="0.45"/>
<rect x="363.3" y="271.2" width="15.4" height="1.2" fill="#2a1ccc" opacity="1.00"/>
<rect x="559.4" y="269.7" width="15.0" height="3.0" fill="#2a1ccc" opacity="0.45"/>
<rect x="550.1" y="246.7" width="13.6" height="2.2" fill="#2a1ccc" opacity="0.45"/>
<rect x="365.6" y="278.8" width="9.0" height="1.2" fill="#2a1ccc" opacity="1.00"/>
<rect x="367.1" y="268.5" width="11.2" height="1.6" fill="#2a1ccc" opacity="0.65"/>
<rect x="483.0" y="238.5" width="14.6" height="1.2" fill="#2a1ccc" opacity="0.65"/>
<rect x="378.0" y="296.4" width="15.2" height="1.2" fill="#2a1ccc" opacity="0.45"/>
<rect x="458.8" y="248.8" width="11.1" height="2.2" fill="#2a1ccc" opacity="0.65"/>
<rect x="534.1" y="231.5" width="10.9" height="3.0" fill="#2a1ccc" opacity="1.00"/>
<rect x="403.1" y="240.2" width="10.1" height="1.2" fill="#2a1ccc" opacity="0.65"/>
<rect x="495.2" y="299.2" width="12.0" height="3.0" fill="#2a1ccc" opacity="0.45"/>
<rect x="456.6" y="270.8" width="9.8" height="2.2" fill="#2a1ccc" opacity="0.45"/>
<rect x="371.6" y="203.7" width="10.8" height="2.2" fill="#2a1ccc" opacity="0.85"/>
<rect x="505.2" y="291.8" width="10.0" height="1.6" fill="#2a1ccc" opacity="0.45"/>
<rect x="542.3" y="204.2" width="11.4" height="1.6" fill="#2a1ccc" opacity="0.45"/>
<rect x="485.5" y="288.2" width="15.7" height="3.0" fill="#2a1ccc" opacity="0.65"/>
<rect x="551.1" y="252.5" width="15.1" height="3.0" fill="#2a1ccc" opacity="1.00"/>
<rect x="483.4" y="292.6" width="10.0" height="1.2" fill="#2a1ccc" opacity="1.00"/>
<rect x="515.2" y="273.8" width="11.9" height="2.2" fill="#2a1ccc" opacity="0.45"/>
<rect x="526.3" y="260.4" width="8.3" height="1.6" fill="#2a1ccc" opacity="0.65"/>
<rect x="420.7" y="285.0" width="13.2" height="1.6" fill="#2a1ccc" opacity="0.65"/>
<rect x="501.5" y="239.6" width="10.0" height="3.0" fill="#2a1ccc" opacity="0.45"/>
<rect x="549.2" y="288.3" width="10.9" height="1.6" fill="#2a1ccc" opacity="0.85"/>
<rect x="468.3" y="233.4" width="12.6" height="3.0" fill="#2a1ccc" opacity="0.85"/>
<rect x="361.9" y="252.3" width="9.1" height="1.2" fill="#2a1ccc" opacity="1.00"/>
<rect x="487.6" y="294.7" width="8.2" height="2.2" fill="#2a1ccc" opacity="0.65"/>
<rect x="525.9" y="251.8" width="10.1" height="3.0" fill="#2a1ccc" opacity="0.65"/>
<rect x="360.7" y="195.0" width="8.8" height="1.2" fill="#2a1ccc" opacity="1.00"/>
<rect x="510.8" y="192.3" width="9.0" height="2.2" fill="#2a1ccc" opacity="0.65"/>
<rect x="399.9" y="293.3" width="11.2" height="1.6" fill="#2a1ccc" opacity="0.65"/>
<rect x="371.8" y="283.5" width="9.6" height="1.2" fill="#2a1ccc" opacity="0.45"/>
<rect x="511.9" y="184.9" width="11.7" height="1.2" fill="#2a1ccc" opacity="1.00"/>
<rect x="505.7" y="204.3" width="13.7" height="2.2" fill="#2a1ccc" opacity="0.85"/>
<rect x="501.5" y="212.4" width="9.2" height="2.2" fill="#2a1ccc" opacity="1.00"/>
<rect x="548.1" y="195.4" width="12.8" height="2.2" fill="#2a1ccc" opacity="0.85"/>
<rect x="397.1" y="256.5" width="14.1" height="1.6" fill="#2a1ccc" opacity="0.45"/>
<rect x="471.8" y="221.8" width="9.6" height="1.2" fill="#2a1ccc" opacity="0.85"/>
<rect x="481.3" y="232.8" width="14.9" height="1.2" fill="#2a1ccc" opacity="1.00"/>
<rect x="446.2" y="293.9" width="13.4" height="3.0" fill="#2a1ccc" opacity="1.00"/>
<rect x="449.0" y="229.2" width="11.2" height="1.6" fill="#2a1ccc" opacity="0.45"/>
<rect x="341.2" y="234.3" width="10.0" height="3.0" fill="#2a1ccc" opacity="1.00"/>
<rect x="434.9" y="211.4" width="11.1" height="3.0" fill="#2a1ccc" opacity="0.65"/>
<rect x="475.3" y="295.7" width="8.7" height="3.0" fill="#2a1ccc" opacity="0.65"/>
<rect x="443.1" y="267.2" width="15.1" height="3.0" fill="#2a1ccc" opacity="0.85"/>
<rect x="386.4" y="290.3" width="11.1" height="3.0" fill="#2a1ccc" opacity="0.45"/>
<rect x="367.2" y="207.4" width="15.0" height="1.6" fill="#2a1ccc" opacity="0.45"/>
<rect x="457.2" y="193.2" width="10.4" height="3.0" fill="#2a1ccc" opacity="1.00"/>
<rect x="556.1" y="298.9" width="9.3" height="3.0" fill="#2a1ccc" opacity="0.65"/>
<rect x="486.1" y="227.1" width="12.7" height="1.6" fill="#2a1ccc" opacity="0.85"/>
<rect x="348.9" y="187.3" width="12.1" height="1.6" fill="#2a1ccc" opacity="0.65"/>
<rect x="384.8" y="263.8" width="13.7" height="1.6" fill="#2a1ccc" opacity="1.00"/>
<rect x="437.4" y="234.7" width="12.9" height="2.2" fill="#2a1ccc" opacity="0.65"/>
<rect x="483.6" y="256.1" width="8.8" height="1.6" fill="#2a1ccc" opacity="0.45"/>
<rect x="410.6" y="257.0" width="15.0" height="2.2" fill="#2a1ccc" opacity="0.45"/>
<rect x="347.2" y="251.3" width="11.2" height="3.0" fill="#2a1ccc" opacity="1.00"/>
<rect x="385.3" y="184.9" width="12.4" height="1.2" fill="#2a1ccc" opacity="0.85"/>
<rect x="373.8" y="227.0" width="8.0" height="1.6" fill="#2a1ccc" opacity="0.65"/>
<rect x="461.3" y="289.8" width="11.5" height="1.2" fill="#2a1ccc" opacity="0.85"/>
<rect x="373.1" y="230.7" width="12.4" height="1.6" fill="#2a1ccc" opacity="1.00"/>
<rect x="533.2" y="186.0" width="12.7" height="1.2" fill="#2a1ccc" opacity="1.00"/>
<rect x="536.9" y="270.6" width="14.1" height="1.6" fill="#2a1ccc" opacity="0.65"/>
<rect x="343.7" y="278.6" width="12.9" height="3.0" fill="#2a1ccc" opacity="1.00"/>
<rect x="486.2" y="262.4" width="9.2" height="1.6" fill="#2a1ccc" opacity="0.85"/>
<rect x="396.2" y="258.2" width="8.1" height="1.2" fill="#2a1ccc" opacity="0.45"/>
<rect x="372.9" y="195.4" width="14.6" height="2.2" fill="#2a1ccc" opacity="0.85"/>
<rect x="411.0" y="202.8" width="12.7" height="2.2" fill="#2a1ccc" opacity="1.00"/>
<rect x="366.4" y="196.1" width="15.4" height="2.2" fill="#2a1ccc" opacity="1.00"/>
<rect x="375.8" y="206.5" width="15.6" height="3.0" fill="#2a1ccc" opacity="0.45"/>
<rect x="404.7" y="209.4" width="12.0" height="2.2" fill="#2a1ccc" opacity="0.65"/>
<rect x="334.8" y="226.7" width="11.8" height="3.0" fill="#2a1ccc" opacity="0.45"/>
<rect x="538.5" y="262.8" width="9.7" height="1.2" fill="#2a1ccc" opacity="0.85"/>
<rect x="419.7" y="293.3" width="15.5" height="2.2" fill="#2a1ccc" opacity="0.45"/>
<rect x="540.0" y="204.1" width="10.1" height="1.2" fill="#2a1ccc" opacity="1.00"/>
<rect x="478.8" y="202.7" width="15.4" height="3.0" fill="#2a1ccc" opacity="0.65"/>
<rect x="382.1" y="243.7" width="10.3" height="3.0" fill="#2a1ccc" opacity="0.85"/>
<rect x="539.3" y="211.8" width="12.8" height="2.2" fill="#2a1ccc" opacity="0.85"/>
<rect x="461.8" y="299.3" width="15.3" height="1.2" fill="#2a1ccc" opacity="0.65"/>
<rect x="500.6" y="208.7" width="12.3" height="2.2" fill="#2a1ccc" opacity="0.85"/>
<rect x="358.3" y="211.8" width="11.4" height="3.0" fill="#2a1ccc" opacity="1.00"/>
<rect x="502.8" y="259.5" width="10.0" height="3.0" fill="#2a1ccc" opacity="1.00"/>
<rect x="381.1" y="239.4" width="8.3" height="3.0" fill="#2a1ccc" opacity="0.65"/>
<rect x="338.2" y="279.5" width="12.7" height="2.2" fill="#2a1ccc" opacity="0.65"/>
<rect x="498.1" y="299.2" width="11.0" height="3.0" fill="#2a1ccc" opacity="0.45"/>
<rect x="330.9" y="261.1" width="12.7" height="3.0" fill="#2a1ccc" opacity="0.65"/>
<rect x="441.8" y="284.9" width="12.4" height="3.0" fill="#2a1ccc" opacity="0.45"/>
<rect x="336.2" y="290.3" width="9.1" height="2.2" fill="#2a1ccc" opacity="1.00"/>
<rect x="411.5" y="249.3" width="11.6" height="1.2" fill="#2a1ccc" opacity="0.85"/>
<rect x="502.8" y="227.5" width="10.0" height="3.0" fill="#2a1ccc" opacity="0.45"/>
<rect x="543.5" y="207.1" width="14.8" height="1.2" fill="#2a1ccc" opacity="0.85"/>
<rect x="387.2" y="199.1" width="14.0" height="2.2" fill="#2a1ccc" opacity="0.45"/>
<rect x="486.9" y="218.3" width="9.7" height="1.6" fill="#2a1ccc" opacity="0.65"/>
<rect x="444.4" y="266.7" width="9.7" height="2.2" fill="#2a1ccc" opacity="0.85"/>
<rect x="332.1" y="281.8" width="10.3" height="2.2" fill="#2a1ccc" opacity="1.00"/>
<rect x="343.9" y="271.7" width="12.8" height="1.2" fill="#2a1ccc" opacity="0.65"/>
<rect x="466.8" y="235.5" width="12.0" height="2.2" fill="#2a1ccc" opacity="1.00"/>
<rect x="476.3" y="257.7" width="10.9" height="2.2" fill="#2a1ccc" opacity="1.00"/>
<rect x="503.6" y="257.7" width="11.7" height="1.6" fill="#2a1ccc" opacity="1.00"/>
<rect x="511.6" y="186.3" width="13.1" height="3.0" fill="#2a1ccc" opacity="0.65"/>
<rect x="508.2" y="288.7" width="14.0" height="2.2" fill="#2a1ccc" opacity="1.00"/>
<rect x="365.5" y="185.6" width="10.2" height="2.2" fill="#2a1ccc" opacity="0.85"/>
<rect x="379.5" y="189.6" width="9.5" height="1.6" fill="#2a1ccc" opacity="0.45"/>
<rect x="473.6" y="282.3" width="9.8" height="1.2" fill="#2a1ccc" opacity="0.65"/>
<rect x="452.9" y="197.4" width="11.2" height="1.2" fill="#2a1ccc" opacity="0.65"/>
<rect x="491.1" y="208.2" width="8.1" height="1.6" fill="#2a1ccc" opacity="0.65"/>
<rect x="467.9" y="195.2" width="9.6" height="1.2" fill="#2a1ccc" opacity="1.00"/>
<rect x="399.6" y="220.9" width="15.3" height="2.2" fill="#2a1ccc" opacity="1.00"/>
<rect x="337.9" y="241.8" width="15.1" height="3.0" fill="#2a1ccc" opacity="0.65"/>
<rect x="338.7" y="258.3" width="14.2" height="2.2" fill="#2a1ccc" opacity="1.00"/>
<rect x="495.5" y="245.6" width="9.3" height="2.2" fill="#2a1ccc" opacity="0.85"/>
<rect x="482.7" y="260.1" width="11.1" height="2.2" fill="#2a1ccc" opacity="0.45"/>
<rect x="356.6" y="251.8" width="11.9" height="1.6" fill="#2a1ccc" opacity="0.65"/>
<rect x="401.7" y="229.3" width="10.2" height="3.0" fill="#2a1ccc" opacity="0.65"/>
<rect x="341.3" y="270.5" width="14.6" height="1.2" fill="#2a1ccc" opacity="1.00"/>
<rect x="380.1" y="286.5" width="13.8" height="1.2" fill="#2a1ccc" opacity="1.00"/>
<rect x="474.0" y="254.6" width="11.5" height="1.2" fill="#2a1ccc" opacity="1.00"/>
<rect x="445.6" y="202.9" width="9.7" height="1.6" fill="#2a1ccc" opacity="0.85"/>
<rect x="333.0" y="273.7" width="14.8" height="3.0" fill="#2a1ccc" opacity="0.65"/>
<rect x="499.4" y="245.3" width="11.0" height="2.2" fill="#2a1ccc" opacity="0.65"/>
<rect x="489.1" y="239.7" width="10.6" height="1.6" fill="#2a1ccc" opacity="0.85"/>
<rect x="486.2" y="273.6" width="13.4" height="1.2" fill="#2a1ccc" opacity="0.45"/>
<rect x="386.6" y="299.6" width="10.6" height="3.0" fill="#2a1ccc" opacity="0.65"/>
<rect x="496.0" y="187.2" width="12.6" height="2.2" fill="#2a1ccc" opacity="0.65"/>
<rect x="512.7" y="255.1" width="14.0" height="1.2" fill="#2a1ccc" opacity="0.45"/>
<rect x="535.5" y="279.5" width="15.8" height="3.0" fill="#2a1ccc" opacity="0.65"/>
<rect x="552.9" y="260.0" width="11.4" height="2.2" fill="#2a1ccc" opacity="0.65"/>
<rect x="449.4" y="189.6" width="13.7" height="1.2" fill="#2a1ccc" opacity="0.65"/>
<rect x="434.5" y="272.5" width="8.4" height="2.2" fill="#2a1ccc" opacity="0.45"/>
<rect x="375.3" y="358.3" width="13.2" height="2.2" fill="#2a1ccc" opacity="1.00"/>
<rect x="493.4" y="395.1" width="12.4" height="2.2" fill="#2a1ccc" opacity="0.85"/>
<rect x="341.1" y="340.9" width="14.3" height="2.2" fill="#2a1ccc" opacity="1.00"/>
<rect x="465.0" y="331.3" width="13.6" height="2.2" fill="#2a1ccc" opacity="0.65"/>
<rect x="446.0" y="365.1" width="13.0" height="1.6" fill="#2a1ccc" opacity="0.65"/>
<rect x="503.7" y="327.9" width="14.3" height="1.2" fill="#2a1ccc" opacity="0.85"/>
<rect x="348.6" y="378.9" width="13.5" height="1.2" fill="#2a1ccc" opacity="0.45"/>
<rect x="500.6" y="317.3" width="12.6" height="1.6" fill="#2a1ccc" opacity="0.65"/>
<rect x="509.4" y="362.2" width="9.4" height="1.6" fill="#2a1ccc" opacity="0.45"/>
<rect x="374.8" y="373.2" width="11.3" height="2.2" fill="#2a1ccc" opacity="0.65"/>
<rect x="485.4" y="338.4" width="14.4" height="2.2" fill="#2a1ccc" opacity="0.45"/>
<rect x="388.8" y="332.1" width="10.4" height="3.0" fill="#2a1ccc" opacity="0.65"/>
<rect x="539.2" y="308.4" width="15.7" height="3.0" fill="#2a1ccc" opacity="1.00"/>
<rect x="482.3" y="393.4" width="9.5" height="3.0" fill="#2a1ccc" opacity="0.45"/>
<rect x="516.1" y="391.2" width="8.7" height="3.0" fill="#2a1ccc" opacity="0.65"/>
<rect x="503.4" y="390.9" width="12.9" height="1.2" fill="#2a1ccc" opacity="0.45"/>
<rect x="537.6" y="352.1" width="13.8" height="1.2" fill="#2a1ccc" opacity="0.45"/>
<rect x="514.3" y="398.6" width="15.7" height="1.2" fill="#2a1ccc" opacity="1.00"/>
<rect x="412.7" y="360.6" width="11.2" height="3.0" fill="#2a1ccc" opacity="1.00"/>
<rect x="490.0" y="318.6" width="10.4" height="1.6" fill="#2a1ccc" opacity="0.85"/>
<rect x="353.8" y="391.2" width="9.3" height="3.0" fill="#2a1ccc" opacity="0.85"/>
<rect x="451.7" y="376.9" width="11.1" height="1.2" fill="#2a1ccc" opacity="0.85"/>
<rect x="446.6" y="305.1" width="8.6" height="1.6" fill="#2a1ccc" opacity="0.65"/>
<rect x="432.0" y="347.3" width="12.1" height="1.6" fill="#2a1ccc" opacity="1.00"/>
<rect x="395.9" y="319.5" width="12.6" height="2.2" fill="#2a1ccc" opacity="1.00"/>
<rect x="446.9" y="375.3" width="13.1" height="2.2" fill="#2a1ccc" opacity="0.65"/>
<rect x="474.3" y="397.7" width="12.2" height="1.6" fill="#2a1ccc" opacity="0.45"/>
<rect x="528.8" y="318.6" width="14.7" height="3.0" fill="#2a1ccc" opacity="1.00"/>
<rect x="459.3" y="327.0" width="12.0" height="1.2" fill="#2a1ccc" opacity="0.45"/>
<rect x="509.5" y="356.3" width="8.5" height="1.6" fill="#2a1ccc" opacity="0.45"/>
<rect x="442.1" y="355.4" width="15.8" height="1.6" fill="#2a1ccc" opacity="1.00"/>
<rect x="479.7" y="399.7" width="14.8" height="3.0" fill="#2a1ccc" opacity="0.85"/>
<rect x="463.5" y="318.0" width="9.5" height="2.2" fill="#2a1ccc" opacity="1.00"/>
<rect x="423.6" y="389.2" width="13.3" height="2.2" fill="#2a1ccc" opacity="1.00"/>
<rect x="438.3" y="358.7" width="15.1" height="1.2" fill="#2a1ccc" opacity="0.85"/>
<rect x="390.4" y="396.1" width="12.2" height="1.2" fill="#2a1ccc" opacity="0.85"/>
<rect x="475.8" y="395.7" width="9.9" height="1.6" fill="#2a1ccc" opacity="0.45"/>
<rect x="406.9" y="379.6" width="9.8" height="1.6" fill="#2a1ccc" opacity="0.85"/>
<rect x="459.0" y="372.1" width="13.4" height="1.2" fill="#2a1ccc" opacity="0.45"/>
<rect x="531.3" y="384.8" width="11.8" height="1.6" fill="#2a1ccc" opacity="0.65"/>
<rect x="532.1" y="337.7" width="10.4" height="1.2" fill="#2a1ccc" opacity="0.65"/>
<rect x="369.2" y="393.6" width="11.0" height="3.0" fill="#2a1ccc" opacity="0.65"/>
<rect x="420.8" y="396.3" width="10.7" height="1.6" fill="#2a1ccc" opacity="0.65"/>
<rect x="359.9" y="398.0" width="8.3" height="3.0" fill="#2a1ccc" opacity="0.85"/>
<rect x="449.8" y="379.6" width="11.8" height="1.2" fill="#2a1ccc" opacity="1.00"/>
<rect x="350.8" y="376.6" width="15.3" height="2.2" fill="#2a1ccc" opacity="0.65"/>
<rect x="411.6" y="349.9" width="10.6" height="1.2" fill="#2a1ccc" opacity="1.00"/>
<rect x="419.7" y="365.6" width="14.5" height="2.2" fill="#2a1ccc" opacity="0.45"/>
<rect x="422.3" y="364.4" width="8.4" height="2.2" fill="#2a1ccc" opacity="0.65"/>
<rect x="434.5" y="327.2" width="14.4" height="3.0" fill="#2a1ccc" opacity="0.65"/>
<rect x="496.2" y="392.4" width="14.2" height="3.0" fill="#2a1ccc" opacity="0.85"/>
<rect x="518.1" y="387.8" width="14.5" height="2.2" fill="#2a1ccc" opacity="0.85"/>
<rect x="508.2" y="328.4" width="14.6" height="3.0" fill="#2a1ccc" opacity="0.45"/>
<rect x="532.3" y="309.0" width="10.2" height="1.2" fill="#2a1ccc" opacity="1.00"/>
<rect x="529.4" y="346.9" width="14.3" height="3.0" fill="#2a1ccc" opacity="0.85"/>
<rect x="418.0" y="352.6" width="8.6" height="1.6" fill="#2a1ccc" opacity="0.65"/>
<rect x="449.3" y="393.0" width="9.6" height="3.0" fill="#2a1ccc" opacity="1.00"/>
<rect x="438.2" y="390.4" width="14.0" height="1.6" fill="#2a1ccc" opacity="0.45"/>
<rect x="500.8" y="339.9" width="15.7" height="3.0" fill="#2a1ccc" opacity="0.65"/>
<rect x="423.2" y="322.7" width="10.2" height="1.6" fill="#2a1ccc" opacity="0.45"/>
<rect x="373.6" y="373.0" width="8.4" height="3.0" fill="#2a1ccc" opacity="0.65"/>
<rect x="453.5" y="392.7" width="10.3" height="1.2" fill="#2a1ccc" opacity="0.85"/>
<rect x="515.4" y="376.2" width="8.3" height="1.6" fill="#2a1ccc" opacity="1.00"/>
<rect x="499.5" y="342.3" width="8.5" height="3.0" fill="#2a1ccc" opacity="0.85"/>
<rect x="345.0" y="353.9" width="9.0" height="3.0" fill="#2a1ccc" opacity="1.00"/>
<rect x="403.0" y="370.6" width="13.7" height="1.2" fill="#2a1ccc" opacity="0.85"/>
<rect x="503.0" y="368.6" width="10.1" height="2.2" fill="#2a1ccc" opacity="0.85"/>
<rect x="376.8" y="304.2" width="15.7" height="1.6" fill="#2a1ccc" opacity="0.45"/>
<rect x="505.6" y="351.2" width="9.3" height="1.6" fill="#2a1ccc" opacity="0.45"/>
<rect x="535.7" y="325.9" width="13.6" height="1.2" fill="#2a1ccc" opacity="0.85"/>
<rect x="227.8" y="286.6" width="15.3" height="1.2" fill="#2a1ccc" opacity="1.00"/>
<rect x="324.9" y="343.6" width="10.7" height="2.2" fill="#2a1ccc" opacity="0.65"/>
<rect x="165.1" y="356.3" width="13.7" height="3.0" fill="#2a1ccc" opacity="0.65"/>
<rect x="165.2" y="187.3" width="15.8" height="1.2" fill="#2a1ccc" opacity="0.65"/>
<rect x="194.8" y="363.2" width="9.1" height="1.6" fill="#2a1ccc" opacity="1.00"/>
<rect x="317.1" y="321.1" width="9.6" height="2.2" fill="#2a1ccc" opacity="1.00"/>
<rect x="216.8" y="370.8" width="9.0" height="2.2" fill="#2a1ccc" opacity="0.85"/>
<rect x="234.1" y="390.3" width="10.4" height="3.0" fill="#2a1ccc" opacity="0.85"/>
<rect x="199.2" y="361.0" width="9.5" height="2.2" fill="#2a1ccc" opacity="0.45"/>
<rect x="309.6" y="241.6" width="12.2" height="3.0" fill="#2a1ccc" opacity="0.65"/>
<rect x="271.6" y="252.0" width="9.2" height="1.2" fill="#2a1ccc" opacity="0.45"/>
<rect x="259.7" y="356.7" width="9.3" height="3.0" fill="#2a1ccc" opacity="1.00"/>
<rect x="304.7" y="217.4" width="15.7" height="3.0" fill="#2a1ccc" opacity="1.00"/>
<rect x="278.0" y="233.2" width="12.2" height="1.2" fill="#2a1ccc" opacity="0.85"/>
<rect x="244.4" y="388.2" width="15.8" height="3.0" fill="#2a1ccc" opacity="0.85"/>
<rect x="208.8" y="386.3" width="10.3" height="1.2" fill="#2a1ccc" opacity="0.85"/>
<rect x="205.8" y="285.7" width="13.4" height="1.2" fill="#2a1ccc" opacity="0.85"/>
<rect x="220.2" y="341.2" width="10.8" height="1.6" fill="#2a1ccc" opacity="1.00"/>
<rect x="224.0" y="361.2" width="9.8" height="1.6" fill="#2a1ccc" opacity="0.65"/>
<rect x="284.1" y="289.9" width="12.9" height="3.0" fill="#2a1ccc" opacity="0.65"/>
<rect x="177.6" y="375.1" width="14.5" height="2.2" fill="#2a1ccc" opacity="1.00"/>
<rect x="228.4" y="252.1" width="9.6" height="2.2" fill="#2a1ccc" opacity="0.65"/>
<rect x="250.9" y="354.7" width="11.0" height="2.2" fill="#2a1ccc" opacity="0.45"/>
<rect x="193.6" y="347.6" width="11.1" height="3.0" fill="#2a1ccc" opacity="0.45"/>
<rect x="296.0" y="364.1" width="13.5" height="1.2" fill="#2a1ccc" opacity="0.45"/>
<rect x="199.1" y="334.1" width="15.4" height="1.2" fill="#2a1ccc" opacity="1.00"/>
<rect x="191.2" y="228.0" width="11.5" height="1.2" fill="#2a1ccc" opacity="1.00"/>
<rect x="232.1" y="191.6" width="11.9" height="3.0" fill="#2a1ccc" opacity="0.65"/>
<rect x="187.7" y="324.5" width="8.0" height="1.2" fill="#2a1ccc" opacity="0.85"/>
<rect x="186.3" y="226.6" width="14.2" height="1.2" fill="#2a1ccc" opacity="0.85"/>
<rect x="194.2" y="261.2" width="11.2" height="2.2" fill="#2a1ccc" opacity="1.00"/>
<rect x="234.6" y="387.2" width="8.3" height="1.6" fill="#2a1ccc" opacity="0.45"/>
<rect x="186.3" y="378.1" width="13.1" height="3.0" fill="#2a1ccc" opacity="0.45"/>
<rect x="212.9" y="339.2" width="12.3" height="3.0" fill="#2a1ccc" opacity="0.45"/>
<rect x="264.0" y="191.9" width="9.8" height="2.2" fill="#2a1ccc" opacity="1.00"/>
<rect x="309.5" y="368.4" width="10.9" height="1.6" fill="#2a1ccc" opacity="0.85"/>
<rect x="256.0" y="277.4" width="14.9" height="1.6" fill="#2a1ccc" opacity="0.85"/>
<rect x="222.4" y="279.9" width="8.8" height="2.2" fill="#2a1ccc" opacity="0.45"/>
<rect x="197.9" y="342.0" width="9.0" height="3.0" fill="#2a1ccc" opacity="0.45"/>
<rect x="207.8" y="306.0" width="9.3" height="1.2" fill="#2a1ccc" opacity="0.85"/>
<rect x="563.9" y="188.5" width="14.3" height="2.2" fill="#2a1ccc" opacity="0.45"/>
<rect x="571.2" y="196.9" width="12.0" height="2.2" fill="#2a1ccc" opacity="0.65"/>
<rect x="585.2" y="187.5" width="10.5" height="3.0" fill="#2a1ccc" opacity="0.65"/>
<rect x="582.4" y="207.3" width="13.2" height="2.2" fill="#2a1ccc" opacity="0.85"/>
<rect x="570.1" y="218.6" width="12.3" height="1.6" fill="#2a1ccc" opacity="0.65"/>
<rect x="564.5" y="228.7" width="11.6" height="3.0" fill="#2a1ccc" opacity="0.45"/>
<rect x="607.9" y="237.4" width="14.4" height="2.2" fill="#2a1ccc" opacity="0.45"/>
<rect x="574.0" y="194.8" width="13.1" height="1.2" fill="#2a1ccc" opacity="0.45"/>
<rect x="572.1" y="219.9" width="12.9" height="1.2" fill="#2a1ccc" opacity="1.00"/>
<rect x="599.4" y="214.9" width="10.6" height="1.2" fill="#2a1ccc" opacity="0.65"/>
<rect x="575.6" y="237.2" width="14.4" height="1.2" fill="#2a1ccc" opacity="0.85"/>
<rect x="597.7" y="219.1" width="14.9" height="3.0" fill="#2a1ccc" opacity="0.65"/>
<rect x="582.7" y="239.6" width="15.4" height="3.0" fill="#2a1ccc" opacity="0.65"/>
<rect x="583.0" y="191.5" width="9.6" height="1.6" fill="#2a1ccc" opacity="0.65"/>
</g></g>
<g clip-path="url(#clipB)"><g filter="url(#soft)">
<rect x="923.2" y="211.0" width="1.0" height="342.0" fill="#e6e6ee" />
<rect x="756.0" y="180.8" width="21.0" height="1.8" fill="#8a8ad8" />
<rect x="776.5" y="180.9" width="183.5" height="3.6" fill="#2a1ccc" />
<polygon points="845.0,184.3 923.5,184.3 923.5,211.6 851.5,211.6 851.0,205.0 847.0,192.0" fill="#c53323" />
<rect x="846.5" y="181.1" width="5.0" height="2.9" fill="#8fb0a0" />
<rect x="876.0" y="181.1" width="4.5" height="2.9" fill="#8fb0a0" />
<rect x="923.0" y="186.4" width="34.0" height="3.4" fill="#b8301c" />
<rect x="957.0" y="187.0" width="48.5" height="2.0" fill="#d8705c" />
<rect x="925.0" y="190.3" width="79.0" height="3.0" fill="#fbeeea" />
<rect x="923.0" y="193.9" width="50.0" height="7.1" fill="#c53323" />
<rect x="973.0" y="194.3" width="31.0" height="1.7" fill="#d8806c" />
<rect x="973.0" y="198.6" width="32.0" height="1.8" fill="#c07068" />
<rect x="1002.0" y="198.4" width="4.0" height="2.0" fill="#5a5ad0" />
<rect x="923.0" y="201.0" width="45.0" height="2.4" fill="#c83a24" />
<rect x="925.0" y="203.6" width="80.0" height="3.6" fill="#eeb0a0" />
<rect x="851.5" y="207.6" width="113.5" height="4.0" fill="#b42c1a" />
<polygon points="1017.6,181.5 1256.0,181.5 1256.0,435.0 1020.2,435.0 1019.4,300.0" fill="#2a1ccc" />
<rect x="1020.7" y="434.7" width="303.3" height="118.9" fill="#c53323" />
<rect x="1322.1" y="436.0" width="3.4" height="5.0" fill="#6a2a9a" opacity="0.75"/>
<rect x="1322.2" y="441.0" width="2.7" height="6.0" fill="#6a2a9a" opacity="0.75"/>
<rect x="1321.2" y="447.0" width="4.0" height="4.0" fill="#6a2a9a" opacity="0.75"/>
<rect x="1321.8" y="452.0" width="3.5" height="6.0" fill="#6a2a9a" opacity="0.75"/>
<rect x="1321.6" y="458.0" width="3.2" height="4.0" fill="#6a2a9a" opacity="0.75"/>
<rect x="1322.1" y="466.0" width="2.5" height="4.0" fill="#6a2a9a" opacity="0.75"/>
<rect x="1321.2" y="474.0" width="4.6" height="4.0" fill="#6a2a9a" opacity="0.75"/>
<rect x="1322.2" y="478.0" width="3.6" height="4.0" fill="#6a2a9a" opacity="0.75"/>
<rect x="1321.4" y="483.0" width="4.3" height="4.0" fill="#6a2a9a" opacity="0.75"/>
<rect x="1322.4" y="488.0" width="3.0" height="4.0" fill="#6a2a9a" opacity="0.75"/>
<rect x="1321.0" y="496.0" width="4.1" height="5.0" fill="#6a2a9a" opacity="0.75"/>
<rect x="1321.1" y="502.0" width="3.9" height="5.0" fill="#6a2a9a" opacity="0.75"/>
<rect x="1321.1" y="507.0" width="3.9" height="5.0" fill="#6a2a9a" opacity="0.75"/>
<rect x="1322.0" y="514.0" width="2.8" height="6.0" fill="#6a2a9a" opacity="0.75"/>
<rect x="1321.1" y="524.0" width="4.7" height="4.0" fill="#6a2a9a" opacity="0.75"/>
<rect x="1322.3" y="528.0" width="2.4" height="5.0" fill="#6a2a9a" opacity="0.75"/>
<rect x="1321.6" y="537.0" width="4.0" height="5.0" fill="#6a2a9a" opacity="0.75"/>
<rect x="1322.1" y="546.0" width="3.3" height="3.0" fill="#6a2a9a" opacity="0.75"/>
<rect x="1322.1" y="550.0" width="3.6" height="3.0" fill="#6a2a9a" opacity="0.75"/>
<rect x="1004.0" y="180.7" width="252.0" height="2.3" fill="#c0342a" />
<rect x="1256.0" y="180.9" width="68.7" height="1.8" fill="#c4604e" />
<rect x="965.0" y="207.0" width="291.0" height="2.2" fill="#c8342a" />
<rect x="1256.0" y="207.2" width="68.0" height="1.8" fill="#cc4a3a" />
<rect x="1192.8" y="264.2" width="63.2" height="2.6" fill="#c8342a" />
<rect x="1256.0" y="264.4" width="67.4" height="2.1" fill="#cc4a3a" />
<rect x="1019.5" y="315.6" width="236.5" height="2.6" fill="#a03a6a" opacity="0.8"/>
<rect x="1256.0" y="315.8" width="74.0" height="2.4" fill="#a06850" />
<rect x="1019.5" y="328.5" width="230.5" height="2.0" fill="#9a3a7a" opacity="0.55"/>
<rect x="1020.0" y="415.5" width="236.0" height="2.4" fill="#b83434" />
<rect x="1256.0" y="415.7" width="68.7" height="1.9" fill="#c05040" />
<rect x="1020.0" y="415.4" width="236.0" height="2.6" fill="#a8345a" opacity="0.6"/>
<rect x="1204.4" y="210.3" width="51.6" height="2.6" fill="#f4f4ff" />
<rect x="1204.4" y="215.5" width="51.6" height="2.5" fill="#f4f4ff" />
<rect x="1204.4" y="220.6" width="51.6" height="3.7" fill="#f4f4ff" />
<rect x="1252.0" y="236.5" width="4.0" height="2.3" fill="#f4f4ff" />
<rect x="1204.4" y="245.2" width="51.6" height="2.6" fill="#f4f4ff" />
<rect x="1143.6" y="263.9" width="49.2" height="3.1" fill="#f4f4ff" />
<rect x="1204.4" y="285.3" width="51.6" height="3.1" fill="#f4f4ff" />
<rect x="1204.4" y="303.5" width="51.6" height="2.5" fill="#f4f4ff" />
<rect x="1204.4" y="345.6" width="51.6" height="2.6" fill="#f4f4ff" />
<rect x="1204.4" y="352.6" width="51.6" height="2.6" fill="#f4f4ff" />
<rect x="1088.0" y="422.0" width="50.4" height="2.8" fill="#f4f4ff" />
<rect x="1204.4" y="419.9" width="51.6" height="7.2" fill="#b4b4f0" />
<rect x="1022.0" y="236.7" width="230.0" height="1.8" fill="#5a5ad8" opacity="0.8"/>
<rect x="1090.0" y="278.7" width="103.0" height="1.9" fill="#8a7ac0" opacity="0.8"/>
<rect x="1022.0" y="278.9" width="68.0" height="1.5" fill="#5a48c8" opacity="0.6"/>
<rect x="1022.0" y="284.6" width="178.0" height="1.6" fill="#4a4ad4" opacity="0.7"/>
<rect x="1040.0" y="360.5" width="170.0" height="1.2" fill="#4c4cd6" opacity="0.7"/>
<rect x="1120.0" y="374.5" width="22.0" height="1.4" fill="#8a8ae6" opacity="0.8"/>
<rect x="1030.0" y="196.8" width="220.0" height="1.0" fill="#3a3ad2" opacity="0.6"/>
<rect x="1075.0" y="209.4" width="10.0" height="1.2" fill="#9a9aee" />
<rect x="1170.0" y="209.4" width="15.0" height="1.2" fill="#7a7ae0" />
<rect x="1174.6" y="448.5" width="18.2" height="2.5" fill="#fbefe6" />
<rect x="1243.0" y="476.9" width="79.0" height="2.6" fill="#fbefe6" />
<rect x="1314.0" y="492.4" width="9.0" height="2.6" fill="#fbefe6" />
<rect x="1106.0" y="528.0" width="89.0" height="2.7" fill="#fbefe6" />
<rect x="1267.8" y="537.0" width="55.2" height="2.5" fill="#fbefe6" />
<rect x="1024.0" y="438.6" width="18.0" height="2.0" fill="#5a22b0" opacity="0.30"/>
<rect x="1044.8" y="438.6" width="18.2" height="2.0" fill="#5a22b0" opacity="0.30"/>
<rect x="1065.0" y="438.6" width="12.1" height="2.0" fill="#5a22b0" opacity="0.30"/>
<rect x="1079.1" y="438.6" width="25.4" height="2.0" fill="#5a22b0" opacity="0.30"/>
<rect x="1105.8" y="438.6" width="10.0" height="2.0" fill="#5a22b0" opacity="0.30"/>
<rect x="1129.9" y="438.6" width="22.4" height="2.0" fill="#5a22b0" opacity="0.30"/>
<rect x="1153.2" y="438.6" width="8.3" height="2.0" fill="#5a22b0" opacity="0.30"/>
<rect x="1162.1" y="438.6" width="12.2" height="2.0" fill="#5a22b0" opacity="0.30"/>
<rect x="1174.9" y="438.6" width="18.2" height="2.0" fill="#5a22b0" opacity="0.30"/>
<rect x="1195.7" y="438.6" width="19.4" height="2.0" fill="#5a22b0" opacity="0.30"/>
<rect x="1216.9" y="438.6" width="22.6" height="2.0" fill="#5a22b0" opacity="0.30"/>
<rect x="1273.2" y="438.6" width="23.6" height="2.0" fill="#5a22b0" opacity="0.30"/>
<rect x="1297.8" y="438.6" width="14.4" height="2.0" fill="#5a22b0" opacity="0.30"/>
<rect x="1314.6" y="438.6" width="5.4" height="2.0" fill="#5a22b0" opacity="0.30"/>
<rect x="1024.0" y="446.5" width="29.1" height="2.0" fill="#5a22b0" opacity="0.36"/>
<rect x="1067.9" y="446.5" width="29.6" height="2.0" fill="#5a22b0" opacity="0.36"/>
<rect x="1098.1" y="446.5" width="21.8" height="2.0" fill="#5a22b0" opacity="0.36"/>
<rect x="1121.1" y="446.5" width="9.9" height="2.0" fill="#5a22b0" opacity="0.36"/>
<rect x="1134.0" y="446.5" width="24.7" height="2.0" fill="#5a22b0" opacity="0.36"/>
<rect x="1159.8" y="446.5" width="10.2" height="2.0" fill="#5a22b0" opacity="0.36"/>
<rect x="1172.5" y="446.5" width="11.9" height="2.0" fill="#5a22b0" opacity="0.36"/>
<rect x="1186.0" y="446.5" width="12.2" height="2.0" fill="#5a22b0" opacity="0.36"/>
<rect x="1199.0" y="446.5" width="22.2" height="2.0" fill="#5a22b0" opacity="0.36"/>
<rect x="1222.7" y="446.5" width="12.7" height="2.0" fill="#5a22b0" opacity="0.36"/>
<rect x="1238.3" y="446.5" width="25.7" height="2.0" fill="#5a22b0" opacity="0.36"/>
<rect x="1266.7" y="446.5" width="12.6" height="2.0" fill="#5a22b0" opacity="0.36"/>
<rect x="1282.0" y="446.5" width="22.1" height="2.0" fill="#5a22b0" opacity="0.36"/>
<rect x="1307.1" y="446.5" width="12.7" height="2.0" fill="#5a22b0" opacity="0.36"/>
<rect x="1024.0" y="456.8" width="15.2" height="2.0" fill="#5a22b0" opacity="0.20"/>
<rect x="1039.9" y="456.8" width="10.0" height="2.0" fill="#5a22b0" opacity="0.20"/>
<rect x="1051.0" y="456.8" width="21.2" height="2.0" fill="#5a22b0" opacity="0.20"/>
<rect x="1073.9" y="456.8" width="29.1" height="2.0" fill="#5a22b0" opacity="0.20"/>
<rect x="1104.9" y="456.8" width="27.1" height="2.0" fill="#5a22b0" opacity="0.20"/>
<rect x="1132.9" y="456.8" width="28.0" height="2.0" fill="#5a22b0" opacity="0.20"/>
<rect x="1162.0" y="456.8" width="12.2" height="2.0" fill="#5a22b0" opacity="0.20"/>
<rect x="1192.0" y="456.8" width="21.3" height="2.0" fill="#5a22b0" opacity="0.20"/>
<rect x="1224.0" y="456.8" width="23.5" height="2.0" fill="#5a22b0" opacity="0.20"/>
<rect x="1250.1" y="456.8" width="21.1" height="2.0" fill="#5a22b0" opacity="0.20"/>
<rect x="1272.1" y="456.8" width="23.8" height="2.0" fill="#5a22b0" opacity="0.20"/>
<rect x="1039.2" y="467.5" width="8.4" height="2.0" fill="#5a22b0" opacity="0.16"/>
<rect x="1049.2" y="467.5" width="9.3" height="2.0" fill="#5a22b0" opacity="0.16"/>
<rect x="1059.9" y="467.5" width="20.6" height="2.0" fill="#5a22b0" opacity="0.16"/>
<rect x="1111.6" y="467.5" width="23.2" height="2.0" fill="#5a22b0" opacity="0.16"/>
<rect x="1135.7" y="467.5" width="8.8" height="2.0" fill="#5a22b0" opacity="0.16"/>
<rect x="1171.2" y="467.5" width="22.0" height="2.0" fill="#5a22b0" opacity="0.16"/>
<rect x="1211.2" y="467.5" width="20.0" height="2.0" fill="#5a22b0" opacity="0.16"/>
<rect x="1234.0" y="467.5" width="24.2" height="2.0" fill="#5a22b0" opacity="0.16"/>
<rect x="1260.7" y="467.5" width="28.1" height="2.0" fill="#5a22b0" opacity="0.16"/>
<rect x="1051.3" y="496.5" width="21.7" height="2.0" fill="#5a22b0" opacity="0.30"/>
<rect x="1075.0" y="496.5" width="21.4" height="2.0" fill="#5a22b0" opacity="0.30"/>
<rect x="1130.7" y="496.5" width="16.5" height="2.0" fill="#5a22b0" opacity="0.30"/>
<rect x="1149.2" y="496.5" width="17.7" height="2.0" fill="#5a22b0" opacity="0.30"/>
<rect x="1167.6" y="496.5" width="24.5" height="2.0" fill="#5a22b0" opacity="0.30"/>
<rect x="1194.1" y="496.5" width="18.6" height="2.0" fill="#5a22b0" opacity="0.30"/>
<rect x="1214.9" y="496.5" width="18.9" height="2.0" fill="#5a22b0" opacity="0.30"/>
<rect x="1236.7" y="496.5" width="13.6" height="2.0" fill="#5a22b0" opacity="0.30"/>
<rect x="1251.6" y="496.5" width="22.9" height="2.0" fill="#5a22b0" opacity="0.30"/>
<rect x="1275.4" y="496.5" width="27.9" height="2.0" fill="#5a22b0" opacity="0.30"/>
<rect x="1304.9" y="496.5" width="15.1" height="2.0" fill="#5a22b0" opacity="0.30"/>
<rect x="1024.0" y="520.5" width="12.4" height="2.0" fill="#5a22b0" opacity="0.16"/>
<rect x="1068.5" y="520.5" width="20.8" height="2.0" fill="#5a22b0" opacity="0.16"/>
<rect x="1090.1" y="520.5" width="18.9" height="2.0" fill="#5a22b0" opacity="0.16"/>
<rect x="1136.5" y="520.5" width="11.7" height="2.0" fill="#5a22b0" opacity="0.16"/>
<rect x="1149.4" y="520.5" width="12.7" height="2.0" fill="#5a22b0" opacity="0.16"/>
<rect x="1164.2" y="520.5" width="18.9" height="2.0" fill="#5a22b0" opacity="0.16"/>
<rect x="1185.7" y="520.5" width="29.6" height="2.0" fill="#5a22b0" opacity="0.16"/>
<rect x="1225.2" y="520.5" width="23.6" height="2.0" fill="#5a22b0" opacity="0.16"/>
<rect x="1250.1" y="520.5" width="25.4" height="2.0" fill="#5a22b0" opacity="0.16"/>
<rect x="1276.4" y="520.5" width="18.0" height="2.0" fill="#5a22b0" opacity="0.16"/>
<rect x="1296.9" y="520.5" width="13.2" height="2.0" fill="#5a22b0" opacity="0.16"/>
<rect x="1310.8" y="520.5" width="9.2" height="2.0" fill="#5a22b0" opacity="0.16"/>
<rect x="1024.0" y="510.0" width="22.4" height="2.0" fill="#5a22b0" opacity="0.08"/>
<rect x="1049.3" y="510.0" width="23.1" height="2.0" fill="#5a22b0" opacity="0.08"/>
<rect x="1074.1" y="510.0" width="11.9" height="2.0" fill="#5a22b0" opacity="0.08"/>
<rect x="1087.7" y="510.0" width="23.7" height="2.0" fill="#5a22b0" opacity="0.08"/>
<rect x="1112.6" y="510.0" width="15.6" height="2.0" fill="#5a22b0" opacity="0.08"/>
<rect x="1130.0" y="510.0" width="21.5" height="2.0" fill="#5a22b0" opacity="0.08"/>
<rect x="1179.1" y="510.0" width="28.5" height="2.0" fill="#5a22b0" opacity="0.08"/>
<rect x="1208.4" y="510.0" width="18.0" height="2.0" fill="#5a22b0" opacity="0.08"/>
<rect x="1229.2" y="510.0" width="16.3" height="2.0" fill="#5a22b0" opacity="0.08"/>
<rect x="1275.4" y="510.0" width="22.3" height="2.0" fill="#5a22b0" opacity="0.08"/>
<rect x="1300.0" y="510.0" width="20.0" height="2.0" fill="#5a22b0" opacity="0.08"/>
<rect x="1039.6" y="545.0" width="29.5" height="2.0" fill="#5a22b0" opacity="0.08"/>
<rect x="1089.3" y="545.0" width="15.7" height="2.0" fill="#5a22b0" opacity="0.08"/>
<rect x="1106.6" y="545.0" width="20.1" height="2.0" fill="#5a22b0" opacity="0.08"/>
<rect x="1128.4" y="545.0" width="8.6" height="2.0" fill="#5a22b0" opacity="0.08"/>
<rect x="1137.7" y="545.0" width="25.6" height="2.0" fill="#5a22b0" opacity="0.08"/>
<rect x="1164.6" y="545.0" width="25.3" height="2.0" fill="#5a22b0" opacity="0.08"/>
<rect x="1190.8" y="545.0" width="19.4" height="2.0" fill="#5a22b0" opacity="0.08"/>
<rect x="1237.7" y="545.0" width="28.9" height="2.0" fill="#5a22b0" opacity="0.08"/>
<rect x="1267.6" y="545.0" width="19.6" height="2.0" fill="#5a22b0" opacity="0.08"/>
<rect x="1289.5" y="545.0" width="22.1" height="2.0" fill="#5a22b0" opacity="0.08"/>
<rect x="1314.2" y="545.0" width="5.8" height="2.0" fill="#5a22b0" opacity="0.08"/>
</g></g>
<g fill="none" stroke="#1c1c1c" stroke-width="1.4">
<path d="M54.7 178 V553.9 H650.1 V178"/>
</g>
<g fill="none" stroke="#2a2a2a" stroke-width="1.7">
<path d="M752.1 176 V553.9 H1348 V176"/>
</g>
<g fill="none" stroke="#11283a" stroke-width="2">
<path d="M650 178.2 H54.95 V3.4 H650" /><path d="M649.8 2.4 V179.2" stroke-width="1.5" stroke="#2c3e4c"/>
</g>
<g fill="none" stroke="#11283a" stroke-width="2.1">
<rect x="752.85" y="0.6" width="594.9" height="175.8"/>
</g>
<text x="-4.6" y="32.2" font-size="39.5" textLength="36.6" lengthAdjust="spacingAndGlyphs" >a)</text>
<text x="715.6" y="32.2" font-size="39.5" textLength="36.0" lengthAdjust="spacingAndGlyphs" >b)</text>
<rect x="54.5" y="96.3" width="595.9" height="5.3" fill="#000" />
<rect x="155.0" y="68.8" width="11.0" height="7.8" fill="#fd04f6" />
<rect x="186.0" y="68.8" width="10.0" height="7.8" fill="#fd04f6" />
<path d="M216 62.6 H245.6 V53.3 L256.2 72.9 L245.6 92.5 V83.2 H216 Z" fill="#fff" stroke="#000" stroke-width="4.2" stroke-linejoin="miter" stroke-miterlimit="14"/>
<rect x="146.80" y="62.30" width="8.50" height="21.20" fill="#bdd7ee" stroke="#000" stroke-width="3.6"/>
<rect x="165.85" y="62.45" width="20.10" height="20.90" fill="#bdd7ee" stroke="#000" stroke-width="3.9"/>
<rect x="196.15" y="62.45" width="20.00" height="20.90" fill="#bdd7ee" stroke="#000" stroke-width="3.9"/>
<text x="67.2" y="50.8" font-size="22.6" textLength="162.6" lengthAdjust="spacingAndGlyphs" >cpbgf_4003760</text>
<path d="M346 119 H170.75 V108.8 L155.2 129.8 L170.75 150.8 V140.5 H346 Z" fill="#fff" stroke="#000" stroke-width="3.7" stroke-linejoin="miter" stroke-miterlimit="14"/>
<rect x="598.75" y="119.05" width="29.50" height="21.20" fill="#fff" stroke="#000" stroke-width="3.5"/>
<rect x="346.15" y="119.15" width="252.30" height="21.50" fill="#bdd7ee" stroke="#000" stroke-width="4.3"/>
<text x="394.9" y="167.4" font-size="22.6" textLength="161.2" lengthAdjust="spacingAndGlyphs" >cpbgf_4003750</text>
<defs><linearGradient id="qg" gradientUnits="userSpaceOnUse" x1="2" y1="0" x2="33" y2="0"><stop offset="0" stop-color="#8649c2"/><stop offset="0.5" stop-color="#6c2fa2"/><stop offset="1" stop-color="#4c1a76"/></linearGradient></defs>
<g transform="translate(460.6,34.3) scale(1.000)">
<path d="M4.8 11.6 C6.6 6.6 11 5.2 16.4 5.2 C23.8 5.2 28.3 9.6 28.3 16.4 C28.3 22.6 24 25.4 19.8 27.6 C15.6 29.8 13.9 31.6 13.9 35.6 L13.9 42.6" fill="none" stroke="url(#qg)" stroke-width="9.6" stroke-linecap="butt" stroke-linejoin="round"/>
<path d="M7.5 9.4 C10 6 14 4.6 18.5 5 C24 5.6 26.8 10 26.8 15" fill="none" stroke="#9a62d0" stroke-width="2.2" stroke-linecap="round" opacity="0.55"/>
<rect x="8.4" y="49" width="12" height="10.9" rx="3" fill="url(#qg)"/>
<rect x="9.8" y="50.2" width="5.4" height="4.4" rx="2" fill="#9a62d0" opacity="0.55"/>
</g>
<g transform="translate(234.5,106.1) scale(0.970)">
<path d="M4.8 11.6 C6.6 6.6 11 5.2 16.4 5.2 C23.8 5.2 28.3 9.6 28.3 16.4 C28.3 22.6 24 25.4 19.8 27.6 C15.6 29.8 13.9 31.6 13.9 35.6 L13.9 42.6" fill="none" stroke="url(#qg)" stroke-width="9.6" stroke-linecap="butt" stroke-linejoin="round"/>
<path d="M7.5 9.4 C10 6 14 4.6 18.5 5 C24 5.6 26.8 10 26.8 15" fill="none" stroke="#9a62d0" stroke-width="2.2" stroke-linecap="round" opacity="0.55"/>
<rect x="8.4" y="49" width="12" height="10.9" rx="3" fill="url(#qg)"/>
<rect x="9.8" y="50.2" width="5.4" height="4.4" rx="2" fill="#9a62d0" opacity="0.55"/>
</g>
<rect x="752.5" y="96.4" width="596.0" height="4.9" fill="#000" />
<rect x="844.0" y="68.7" width="10.0" height="7.6" fill="#fd04f6" />
<rect x="874.0" y="68.7" width="10.5" height="7.6" fill="#fd04f6" />
<path d="M899 62.4 H951.45 V53.3 L961.9 72.8 L951.45 92.3 V83 H899 Z" fill="#fff" stroke="#000" stroke-width="4.1" stroke-linejoin="miter" stroke-miterlimit="14"/>
<rect x="757.20" y="62.00" width="79.30" height="20.80" fill="#fff" stroke="#000" stroke-width="4.0"/>
<rect x="836.00" y="62.00" width="7.90" height="20.80" fill="#bdd7ee" stroke="#000" stroke-width="4.0"/>
<rect x="854.30" y="62.00" width="19.50" height="20.80" fill="#bdd7ee" stroke="#000" stroke-width="4.0"/>
<rect x="884.60" y="62.00" width="14.90" height="20.80" fill="#bdd7ee" stroke="#000" stroke-width="4.0"/>
<text x="773.2" y="52.8" font-size="22.6" textLength="162.9" lengthAdjust="spacingAndGlyphs" >cpbgf_4003760</text>
<path d="M1021.1 62.2 H1244.4 V53.6 L1258.8 73.5 L1244.4 93.4 V85 H1021.1 Z" fill="#86e192" stroke="#000" stroke-width="4.2" stroke-linejoin="miter" stroke-miterlimit="14"/>
<text x="1052.5" y="53.2" font-size="22.6" textLength="161.2" lengthAdjust="spacingAndGlyphs" >cpbgf_4003745</text>
<path d="M1000.15 117.15 H859.85 V108.1 L844.4 128.2 L859.85 148.3 V139.15 H1000.15 Z" fill="#86e192" stroke="#000" stroke-width="4.1" stroke-linejoin="miter" stroke-miterlimit="14"/>
<text x="786.6" y="163.0" font-size="22.6" textLength="160.8" lengthAdjust="spacingAndGlyphs" >cpbgf_4003755</text>
<path d="M1042 118 H1036 V108.6 L1021 128.2 L1036 147.8 V139.1 H1042 Z" fill="#fff" stroke="#000" stroke-width="4.0" stroke-linejoin="miter" stroke-miterlimit="14"/>
<rect x="1290.80" y="117.80" width="31.90" height="21.50" fill="#fff" stroke="#000" stroke-width="4.0"/>
<rect x="1040.10" y="117.90" width="250.00" height="21.30" fill="#bdd7ee" stroke="#000" stroke-width="4.2"/>
<text x="1086.7" y="166.6" font-size="22.6" textLength="161.3" lengthAdjust="spacingAndGlyphs" >cpbgf_4003750</text>
<rect x="310.60" y="571.80" width="34.00" height="28.30" fill="#fff" stroke="#000" stroke-width="3.6"/>
<text x="349.8" y="593.9" font-size="22.9" textLength="43.2" lengthAdjust="spacingAndGlyphs" >UTR</text>
<rect x="408.80" y="571.80" width="34.10" height="28.30" fill="#bdd7ee" stroke="#000" stroke-width="3.6"/>
<text x="449.8" y="593.9" font-size="22.9" textLength="40.6" lengthAdjust="spacingAndGlyphs" >CDS</text>
<rect x="513.00" y="571.80" width="33.90" height="28.30" fill="#86e192" stroke="#000" stroke-width="3.6"/>
<text x="554.2" y="593.9" font-size="22.9" textLength="69.0" lengthAdjust="spacingAndGlyphs" >ncRNA</text>
<rect x="643.8" y="570.6" width="33.2" height="28.9" fill="#1b19d0" />
<text x="683.0" y="593.6" font-size="22.9" textLength="50.3" lengthAdjust="spacingAndGlyphs" >FWD</text>
<rect x="744.2" y="570.6" width="33.5" height="28.9" fill="#d01818" />
<text x="786.8" y="593.6" font-size="22.9" textLength="40.4" lengthAdjust="spacingAndGlyphs" >REV</text>
<line x1="851" y1="585.6" x2="878" y2="585.6" stroke="#fd04f6" stroke-width="6.4" stroke-linecap="round"/>
<text x="886.0" y="593.6" font-size="22.9" textLength="64.6" lengthAdjust="spacingAndGlyphs" >Intron</text>
<line x1="962.5" y1="585.6" x2="989" y2="585.6" stroke="#000" stroke-width="6.4" stroke-linecap="round"/>
<text x="998.2" y="593.6" font-size="22.9" textLength="47.8" lengthAdjust="spacingAndGlyphs" >DNA</text>
</svg>
</body></html>
